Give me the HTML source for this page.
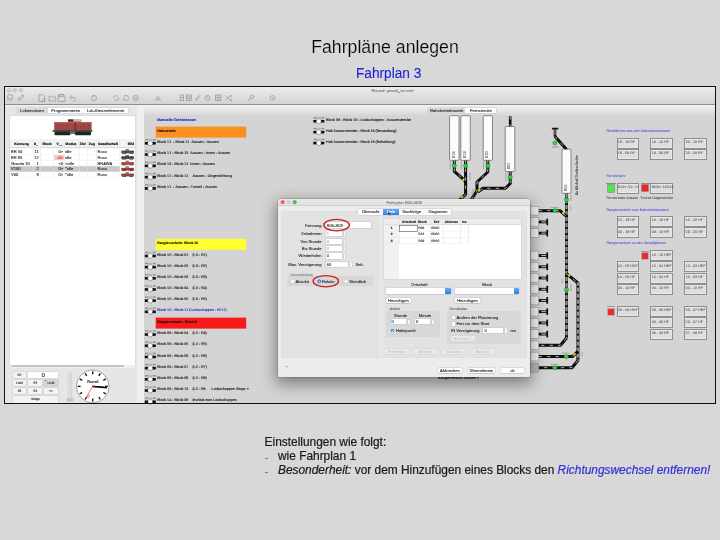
<!DOCTYPE html>
<html><head><meta charset="utf-8"><style>
*{box-sizing:border-box;margin:0;padding:0}
html,body{width:720px;height:540px;overflow:hidden}
body{background:#d8d8d8;font-family:"Liberation Sans",sans-serif;position:relative}
.a{position:absolute}
.t{white-space:nowrap;line-height:1}
svg{position:absolute;left:0;top:0;overflow:visible}
.tx{will-change:transform;font-family:"Liberation Sans",sans-serif;white-space:pre}
</style></head><body>
<div class="a" style="left:265.00px;top:457.70px;width:2.90px;height:1.20px;background:#808080"></div>
<div class="a" style="left:265.00px;top:471.60px;width:2.90px;height:1.20px;background:#808080"></div>
<svg class="tx" width="720" height="540" viewBox="0 0 720 540"><text x="385.00" y="52.59" font-size="17.7" text-anchor="middle" fill="#000" stroke="#d8d8d8" stroke-width="0.2" transform="translate(0 52.59) scale(1 1.055) translate(0 -52.59)">Fahrpläne anlegen</text><text x="388.65" y="78.06" font-size="13.7" text-anchor="middle" fill="#2020d8" stroke="#2020d8" stroke-width="0.1" transform="translate(0 78.06) scale(1 1.13) translate(0 -78.06)">Fahrplan 3</text><text x="264.60" y="445.89" font-size="11.9" text-anchor="start" fill="#1a1a1a" stroke="#1a1a1a" stroke-width="0.22">Einstellungen wie folgt:</text><text x="278.00" y="460.09" font-size="11.9" text-anchor="start" fill="#1a1a1a" stroke="#1a1a1a" stroke-width="0.22">wie Fahrplan 1</text><text x="278.00" y="473.79" font-size="11.9" text-anchor="start" fill="#1a1a1a" stroke="#1a1a1a" stroke-width="0.22"><tspan font-style="italic">Besonderheit:</tspan> vor dem Hinzufügen eines Blocks den <tspan font-style="italic" fill="#3030d8" stroke="#3030d8">Richtungswechsel entfernen!</tspan></text></svg>
<div class="a" style="left:4.00px;top:86.00px;width:712.00px;height:318.00px;background:#d4d4d4"></div>
<div class="a" style="left:5.00px;top:87.00px;width:710.00px;height:17.40px;background:linear-gradient(#ececec,#e2e2e2 40%,#d3d3d3)"></div>
<div class="a" style="left:5.00px;top:104.00px;width:710.00px;height:1.00px;background:#8e8e8e"></div>
<div class="a" style="left:5.00px;top:105.00px;width:710.00px;height:1.00px;background:#f2f2f2"></div>
<svg width="720" height="540" viewBox="0 0 720 540"><circle cx="9" cy="90.3" r="2.1" fill="#cdcdcd" stroke="#bdbdbd" stroke-width="0.4"/><circle cx="14.8" cy="90.3" r="2.1" fill="#cdcdcd" stroke="#bdbdbd" stroke-width="0.4"/><circle cx="20.9" cy="90.3" r="2.1" fill="#cdcdcd" stroke="#bdbdbd" stroke-width="0.4"/><rect x="7.6" y="94.6" width="5" height="5.5" rx="1" fill="#c4c4c4" stroke="#9c9c9c" stroke-width="0.6"/><rect x="8.4" y="95.6" width="3.4" height="1.8" fill="#e0e0e0"/><circle cx="19.5" cy="99" r="1.6" fill="none" stroke="#9c9c9c" stroke-width="0.8"/><circle cx="22.6" cy="96" r="1.1" fill="none" stroke="#9c9c9c" stroke-width="0.8"/><path d="M39 94.7h3.5l2 2v4.8h-5.5z" fill="none" stroke="#9c9c9c" stroke-width="0.8"/><circle cx="43.8" cy="100.6" r="1.1" fill="none" stroke="#9c9c9c" stroke-width="0.8"/><path d="M49 96.2h2.4l0.8 0.8h3.6v4h-6.8z" fill="none" stroke="#9c9c9c" stroke-width="0.8"/><path d="M58.3 94.7h5.6l1 1v5.8h-6.6z" fill="none" stroke="#9c9c9c" stroke-width="0.8"/><rect x="59.6" y="94.7" width="3.6" height="2" fill="none" stroke="#9c9c9c" stroke-width="0.8"/><path d="M70 97.3h3.2a2 2 0 0 1 0 4" fill="none" stroke="#9c9c9c" stroke-width="0.8"/><path d="M71.6 95.6l-1.8 1.7 1.8 1.7" fill="none" stroke="#9c9c9c" stroke-width="0.8"/><circle cx="94" cy="98" r="2.6" fill="none" stroke="#9c9c9c" stroke-width="0.8"/><path d="M94 95v2.4" fill="none" stroke="#9c9c9c" stroke-width="0.8"/><path d="M113.5 98a2.3 2.3 0 0 1 4.2-1.3M118.8 98a2.3 2.3 0 0 1-4.2 1.3" fill="none" stroke="#9c9c9c" stroke-width="0.8"/><circle cx="117.3" cy="98" r="0.1" fill="none" stroke="#9c9c9c" stroke-width="0.8"/><path d="M123.5 98a2.5 2.5 0 1 0 1.2-2.2" fill="none" stroke="#9c9c9c" stroke-width="0.8"/><path d="M123.8 95.2l0.9 0.7-0.7 0.9" fill="none" stroke="#9c9c9c" stroke-width="0.8"/><circle cx="135.7" cy="98" r="2.6" fill="none" stroke="#9c9c9c" stroke-width="0.8"/><path d="M134.6 96.9l2.2 2.2M136.8 96.9l-2.2 2.2" fill="none" stroke="#9c9c9c" stroke-width="0.8"/><path d="M158 94.8l3.2 5.8h-6.4z" fill="#b8b8b8"/><path d="M158 96.6v2" stroke="#e8e8e8" stroke-width="0.6"/><rect x="180.2" y="95" width="3.4" height="5.6" fill="none" stroke="#9c9c9c" stroke-width="0.8"/><path d="M180.2 97.5h3.4" fill="none" stroke="#9c9c9c" stroke-width="0.8"/><rect x="186.4" y="95" width="4.8" height="5.6" fill="none" stroke="#9c9c9c" stroke-width="0.8"/><path d="M186.4 96.8h4.8M186.4 98.6h4.8" fill="none" stroke="#9c9c9c" stroke-width="0.8"/><path d="M195.6 99.5l2.5-2.5 1.5 1.5M198 96.5l2.4-1" fill="none" stroke="#9c9c9c" stroke-width="0.8"/><circle cx="196.6" cy="99.6" r="1" fill="#9c9c9c"/><circle cx="207.5" cy="98" r="2.6" fill="none" stroke="#9c9c9c" stroke-width="0.8"/><path d="M207.5 96.4v1.6h1.4" fill="none" stroke="#9c9c9c" stroke-width="0.8"/><rect x="215.5" y="95" width="5.4" height="5.6" fill="none" stroke="#9c9c9c" stroke-width="0.8"/><path d="M215.5 97.8h5.4M218.2 95v5.6" fill="none" stroke="#9c9c9c" stroke-width="0.8"/><path d="M225.5 95.5l5.6 5M225.5 100.5l5.6-5M229.8 95.5h1.5v1.5M229.8 100.5h1.5v-1.5" fill="none" stroke="#9c9c9c" stroke-width="0.8"/><circle cx="252" cy="96.8" r="1.7" fill="none" stroke="#9c9c9c" stroke-width="0.8"/><path d="M250.8 98l-2.7 2.7" stroke="#9c9c9c" stroke-width="1"/><circle cx="272.5" cy="98" r="2.4" fill="none" stroke="#9c9c9c" stroke-width="0.8"/><path d="M272.5 97.3v2" fill="none" stroke="#9c9c9c" stroke-width="0.8"/><text x="371.5" y="91.6" font-size="4.2" fill="#6a6a6a" stroke="#6a6a6a" stroke-width="0.05">Rocrail: gesall_virt.xml</text></svg>
<div class="a" style="left:5.00px;top:105.50px;width:132.00px;height:297.00px;background:#e6e6e6"></div>
<div class="a" style="left:137.00px;top:105.50px;width:7.00px;height:297.00px;background:#eeeeee"></div>
<div class="a" style="left:17.20px;top:108.00px;width:111.00px;height:5.00px;background:#fdfdfd;box-shadow:0 0 0 0.5px #cfcfcf"></div>
<div class="a" style="left:17.20px;top:108.00px;width:30.70px;height:5.00px;background:#dadada"></div>
<div class="a" style="left:9.50px;top:115.80px;width:125.50px;height:249.00px;background:#fff;box-shadow:0 0 0 0.5px #d2d2d2"></div>
<div class="a" style="left:9.50px;top:139.00px;width:125.50px;height:8.60px;background:#f3f3f3;border-bottom:0.6px solid #dcdcdc"></div>
<div class="a" style="left:9.50px;top:166.20px;width:110.20px;height:5.60px;background:#c8c8c8"></div>
<div class="a" style="left:53.80px;top:154.60px;width:10.50px;height:5.70px;background:#f6caca"></div>
<svg width="720" height="540" viewBox="0 0 720 540"><rect x="33.2" y="139" width="0.5" height="38.5" fill="#e2e2e2"/><rect x="40.5" y="139" width="0.5" height="38.5" fill="#e2e2e2"/><rect x="53.6" y="139" width="0.5" height="38.5" fill="#e2e2e2"/><rect x="64.3" y="139" width="0.5" height="38.5" fill="#e2e2e2"/><rect x="78.9" y="139" width="0.5" height="38.5" fill="#e2e2e2"/><rect x="87.6" y="139" width="0.5" height="38.5" fill="#e2e2e2"/><rect x="96.4" y="139" width="0.5" height="38.5" fill="#e2e2e2"/><rect x="119.7" y="139" width="0.5" height="38.5" fill="#e2e2e2"/><rect x="9.5" y="148.6" width="125" height="0.4" fill="#ececec"/><rect x="9.5" y="154.35" width="125" height="0.4" fill="#ececec"/><rect x="9.5" y="160.1" width="125" height="0.4" fill="#ececec"/><rect x="9.5" y="165.85" width="125" height="0.4" fill="#ececec"/><rect x="9.5" y="171.6" width="125" height="0.4" fill="#ececec"/><rect x="9.5" y="177.35" width="125" height="0.4" fill="#ececec"/><rect x="54.2" y="122.2" width="37.4" height="8.3" fill="#a04646"/><rect x="54.2" y="122.2" width="37.4" height="1" fill="#b86060"/><rect x="74.6" y="122.2" width="1.2" height="8.3" fill="#6e2626"/><rect x="58" y="123.5" width="0.5" height="6.5" fill="#8a3838"/><rect x="62" y="123.5" width="0.5" height="6.5" fill="#8a3838"/><rect x="66" y="123.5" width="0.5" height="6.5" fill="#8a3838"/><rect x="84" y="123.5" width="0.5" height="6.5" fill="#8a3838"/><rect x="88" y="123.5" width="0.5" height="6.5" fill="#8a3838"/><rect x="67.9" y="119.6" width="13.4" height="2.8" fill="#a04646"/><rect x="68.2" y="119.4" width="5" height="1.6" fill="#4a2222"/><rect x="73.4" y="119.6" width="7.6" height="2" fill="#c8c0c0"/><rect x="52.6" y="130.2" width="39.7" height="1.6" fill="#2c3430"/><rect x="54.5" y="131.6" width="16" height="3.6" rx="1" fill="#1e2622"/><rect x="75" y="131.6" width="16" height="3.6" rx="1" fill="#1e2622"/><rect x="70.5" y="131.8" width="4.5" height="2.2" fill="#6a706c"/><rect x="121.3325" y="150.61428571428573" width="12.635000000000002" height="2.1028571428571428" fill="#5e4444"/><rect x="125.3225" y="149.56285714285715" width="3.6575" height="3.154285714285714" fill="#5e4444"/><rect x="125.9875" y="149.3" width="2.66" height="0.39428571428571424" fill="#2a1a1a"/><rect x="125.82125" y="149.95714285714286" width="0.9975" height="0.6571428571428571" fill="#d8d0d0"/><rect x="127.48375" y="149.95714285714286" width="0.9975" height="0.6571428571428571" fill="#d8d0d0"/><rect x="122.6625" y="150.74571428571429" width="0.16625" height="1.8399999999999999" fill="#2a1a1a"/><rect x="123.9925" y="150.74571428571429" width="0.16625" height="1.8399999999999999" fill="#2a1a1a"/><rect x="130.31" y="150.74571428571429" width="0.16625" height="1.8399999999999999" fill="#2a1a1a"/><rect x="131.64" y="150.74571428571429" width="0.16625" height="1.8399999999999999" fill="#2a1a1a"/><rect x="132.6375" y="150.74571428571429" width="0.16625" height="1.8399999999999999" fill="#2a1a1a"/><rect x="121.0" y="152.5857142857143" width="13.3" height="0.4205714285714286" fill="#3a3a3a"/><rect x="121.9975" y="152.98000000000002" width="3.99" height="0.7885714285714285" fill="#2a2a2a"/><rect x="129.3125" y="152.98000000000002" width="3.99" height="0.7885714285714285" fill="#2a2a2a"/><rect x="125.9875" y="152.98000000000002" width="3.325" height="0.39428571428571424" fill="#555"/><rect x="121.3325" y="156.36428571428573" width="12.635000000000002" height="2.1028571428571428" fill="#363650"/><rect x="125.3225" y="155.31285714285715" width="3.6575" height="3.154285714285714" fill="#363650"/><rect x="125.9875" y="155.05" width="2.66" height="0.39428571428571424" fill="#2a1a1a"/><rect x="125.82125" y="155.70714285714286" width="0.9975" height="0.6571428571428571" fill="#d8d0d0"/><rect x="127.48375" y="155.70714285714286" width="0.9975" height="0.6571428571428571" fill="#d8d0d0"/><rect x="122.6625" y="156.49571428571429" width="0.16625" height="1.8399999999999999" fill="#2a1a1a"/><rect x="123.9925" y="156.49571428571429" width="0.16625" height="1.8399999999999999" fill="#2a1a1a"/><rect x="130.31" y="156.49571428571429" width="0.16625" height="1.8399999999999999" fill="#2a1a1a"/><rect x="131.64" y="156.49571428571429" width="0.16625" height="1.8399999999999999" fill="#2a1a1a"/><rect x="132.6375" y="156.49571428571429" width="0.16625" height="1.8399999999999999" fill="#2a1a1a"/><rect x="121.0" y="158.3357142857143" width="13.3" height="0.4205714285714286" fill="#3a3a3a"/><rect x="121.9975" y="158.73000000000002" width="3.99" height="0.7885714285714285" fill="#2a2a2a"/><rect x="129.3125" y="158.73000000000002" width="3.99" height="0.7885714285714285" fill="#2a2a2a"/><rect x="125.9875" y="158.73000000000002" width="3.325" height="0.39428571428571424" fill="#555"/><rect x="121.3325" y="162.11428571428573" width="12.635000000000002" height="2.1028571428571428" fill="#d04030"/><rect x="125.3225" y="161.06285714285715" width="3.6575" height="3.154285714285714" fill="#d04030"/><rect x="125.9875" y="160.8" width="2.66" height="0.39428571428571424" fill="#2a1a1a"/><rect x="125.82125" y="161.45714285714286" width="0.9975" height="0.6571428571428571" fill="#d8d0d0"/><rect x="127.48375" y="161.45714285714286" width="0.9975" height="0.6571428571428571" fill="#d8d0d0"/><rect x="122.6625" y="162.24571428571429" width="0.16625" height="1.8399999999999999" fill="#2a1a1a"/><rect x="123.9925" y="162.24571428571429" width="0.16625" height="1.8399999999999999" fill="#2a1a1a"/><rect x="130.31" y="162.24571428571429" width="0.16625" height="1.8399999999999999" fill="#2a1a1a"/><rect x="131.64" y="162.24571428571429" width="0.16625" height="1.8399999999999999" fill="#2a1a1a"/><rect x="132.6375" y="162.24571428571429" width="0.16625" height="1.8399999999999999" fill="#2a1a1a"/><rect x="121.0" y="164.0857142857143" width="13.3" height="0.4205714285714286" fill="#3a3a3a"/><rect x="121.9975" y="164.48000000000002" width="3.99" height="0.7885714285714285" fill="#2a2a2a"/><rect x="129.3125" y="164.48000000000002" width="3.99" height="0.7885714285714285" fill="#2a2a2a"/><rect x="125.9875" y="164.48000000000002" width="3.325" height="0.39428571428571424" fill="#555"/><rect x="121.3325" y="167.86428571428573" width="12.635000000000002" height="2.1028571428571428" fill="#a83c3c"/><rect x="125.3225" y="166.81285714285715" width="3.6575" height="3.154285714285714" fill="#a83c3c"/><rect x="125.9875" y="166.55" width="2.66" height="0.39428571428571424" fill="#2a1a1a"/><rect x="125.82125" y="167.20714285714286" width="0.9975" height="0.6571428571428571" fill="#d8d0d0"/><rect x="127.48375" y="167.20714285714286" width="0.9975" height="0.6571428571428571" fill="#d8d0d0"/><rect x="122.6625" y="167.99571428571429" width="0.16625" height="1.8399999999999999" fill="#2a1a1a"/><rect x="123.9925" y="167.99571428571429" width="0.16625" height="1.8399999999999999" fill="#2a1a1a"/><rect x="130.31" y="167.99571428571429" width="0.16625" height="1.8399999999999999" fill="#2a1a1a"/><rect x="131.64" y="167.99571428571429" width="0.16625" height="1.8399999999999999" fill="#2a1a1a"/><rect x="132.6375" y="167.99571428571429" width="0.16625" height="1.8399999999999999" fill="#2a1a1a"/><rect x="121.0" y="169.8357142857143" width="13.3" height="0.4205714285714286" fill="#3a3a3a"/><rect x="121.9975" y="170.23000000000002" width="3.99" height="0.7885714285714285" fill="#2a2a2a"/><rect x="129.3125" y="170.23000000000002" width="3.99" height="0.7885714285714285" fill="#2a2a2a"/><rect x="125.9875" y="170.23000000000002" width="3.325" height="0.39428571428571424" fill="#555"/><rect x="121.3325" y="173.61428571428573" width="12.635000000000002" height="2.1028571428571428" fill="#a83c3c"/><rect x="125.3225" y="172.56285714285715" width="3.6575" height="3.154285714285714" fill="#a83c3c"/><rect x="125.9875" y="172.3" width="2.66" height="0.39428571428571424" fill="#2a1a1a"/><rect x="125.82125" y="172.95714285714286" width="0.9975" height="0.6571428571428571" fill="#d8d0d0"/><rect x="127.48375" y="172.95714285714286" width="0.9975" height="0.6571428571428571" fill="#d8d0d0"/><rect x="122.6625" y="173.74571428571429" width="0.16625" height="1.8399999999999999" fill="#2a1a1a"/><rect x="123.9925" y="173.74571428571429" width="0.16625" height="1.8399999999999999" fill="#2a1a1a"/><rect x="130.31" y="173.74571428571429" width="0.16625" height="1.8399999999999999" fill="#2a1a1a"/><rect x="131.64" y="173.74571428571429" width="0.16625" height="1.8399999999999999" fill="#2a1a1a"/><rect x="132.6375" y="173.74571428571429" width="0.16625" height="1.8399999999999999" fill="#2a1a1a"/><rect x="121.0" y="175.5857142857143" width="13.3" height="0.4205714285714286" fill="#3a3a3a"/><rect x="121.9975" y="175.98000000000002" width="3.99" height="0.7885714285714285" fill="#2a2a2a"/><rect x="129.3125" y="175.98000000000002" width="3.99" height="0.7885714285714285" fill="#2a2a2a"/><rect x="125.9875" y="175.98000000000002" width="3.325" height="0.39428571428571424" fill="#555"/></svg>
<div class="a" style="left:11.40px;top:365.60px;width:113.00px;height:1.60px;background:#c2c2c2;border-radius:1px"></div>
<div class="a" style="left:9.50px;top:365.00px;width:125.50px;height:3.00px;background:#efefef"></div>
<div class="a" style="left:11.40px;top:365.40px;width:113.00px;height:1.60px;background:#c4c4c4;border-radius:1px"></div>
<div class="a" style="left:12.70px;top:371.80px;width:13.70px;height:5.80px;background:#f3f3f3;box-shadow:0 0 0 0.5px #c9c9c9;border-radius:0.8px"></div>
<div class="a" style="left:28.30px;top:371.80px;width:29.70px;height:5.80px;background:#fff;box-shadow:0 0 0 0.5px #cfcfcf"></div>
<div class="a" style="left:12.70px;top:380.00px;width:13.70px;height:5.70px;background:#f3f3f3;box-shadow:0 0 0 0.5px #c9c9c9;border-radius:0.8px"></div>
<div class="a" style="left:28.30px;top:380.00px;width:14.20px;height:5.70px;background:#f3f3f3;box-shadow:0 0 0 0.5px #c9c9c9;border-radius:0.8px"></div>
<div class="a" style="left:44.00px;top:380.00px;width:14.00px;height:5.70px;background:#d6d6d6;box-shadow:0 0 0 0.5px #bdbdbd;border-radius:0.8px"></div>
<div class="a" style="left:12.70px;top:388.30px;width:13.70px;height:5.70px;background:#f3f3f3;box-shadow:0 0 0 0.5px #c9c9c9;border-radius:0.8px"></div>
<div class="a" style="left:28.30px;top:388.30px;width:14.20px;height:5.70px;background:#f3f3f3;box-shadow:0 0 0 0.5px #c9c9c9;border-radius:0.8px"></div>
<div class="a" style="left:44.00px;top:388.30px;width:14.00px;height:5.70px;background:#f3f3f3;box-shadow:0 0 0 0.5px #c9c9c9;border-radius:0.8px"></div>
<div class="a" style="left:45.00px;top:380.20px;width:0.90px;height:0.90px;background:#e03030"></div>
<div class="a" style="left:12.70px;top:396.30px;width:45.30px;height:6.50px;background:#f3f3f3;box-shadow:0 0 0 0.5px #c9c9c9;border-radius:0.8px"></div>
<svg width="720" height="540" viewBox="0 0 720 540"><rect x="68.6" y="373" width="3" height="28" fill="#dcdcdc" stroke="#c8c8c8" stroke-width="0.4"/><rect x="71.6" y="375.0" width="1.4" height="0.4" fill="#b8b8b8"/><rect x="71.6" y="377.8" width="1.4" height="0.4" fill="#b8b8b8"/><rect x="71.6" y="380.6" width="1.4" height="0.4" fill="#b8b8b8"/><rect x="71.6" y="383.4" width="1.4" height="0.4" fill="#b8b8b8"/><rect x="71.6" y="386.2" width="1.4" height="0.4" fill="#b8b8b8"/><rect x="71.6" y="389.0" width="1.4" height="0.4" fill="#b8b8b8"/><rect x="71.6" y="391.8" width="1.4" height="0.4" fill="#b8b8b8"/><rect x="71.6" y="394.6" width="1.4" height="0.4" fill="#b8b8b8"/><rect x="71.6" y="397.4" width="1.4" height="0.4" fill="#b8b8b8"/><rect x="66.6" y="398.4" width="7" height="3.2" fill="#c4c4c4"/><circle cx="92.75" cy="386.4" r="16.4" fill="#fff" stroke="#555" stroke-width="0.5"/><line x1="92.75" y1="371.30" x2="92.75" y2="374.20" stroke="#111" stroke-width="1.35"/><line x1="100.30" y1="373.32" x2="98.85" y2="375.83" stroke="#111" stroke-width="1.35"/><line x1="105.83" y1="378.85" x2="103.32" y2="380.30" stroke="#111" stroke-width="1.35"/><line x1="107.85" y1="386.40" x2="104.95" y2="386.40" stroke="#111" stroke-width="1.35"/><line x1="105.83" y1="393.95" x2="103.32" y2="392.50" stroke="#111" stroke-width="1.35"/><line x1="100.30" y1="399.48" x2="98.85" y2="396.97" stroke="#111" stroke-width="1.35"/><line x1="92.75" y1="401.50" x2="92.75" y2="398.60" stroke="#111" stroke-width="1.35"/><line x1="85.20" y1="399.48" x2="86.65" y2="396.97" stroke="#111" stroke-width="1.35"/><line x1="79.67" y1="393.95" x2="82.18" y2="392.50" stroke="#111" stroke-width="1.35"/><line x1="77.65" y1="386.40" x2="80.55" y2="386.40" stroke="#111" stroke-width="1.35"/><line x1="79.67" y1="378.85" x2="82.18" y2="380.30" stroke="#111" stroke-width="1.35"/><line x1="85.20" y1="373.32" x2="86.65" y2="375.83" stroke="#111" stroke-width="1.35"/><text x="87.15" y="383.2" font-size="3.3" font-weight="bold" fill="#333" stroke="#333" stroke-width="0.12">Rocrail</text><line x1="92.75" y1="386.4" x2="106.95" y2="387.79999999999995" stroke="#111" stroke-width="1.5"/><line x1="92.75" y1="386.4" x2="103.75" y2="387.0" stroke="#111" stroke-width="1.1"/><line x1="92.75" y1="386.4" x2="85.45" y2="398.79999999999995" stroke="#e02020" stroke-width="0.6"/><circle cx="88.35" cy="395.79999999999995" r="1.2" fill="#fff" stroke="#e02020" stroke-width="0.6"/><circle cx="92.75" cy="386.4" r="0.8" fill="#e02020"/></svg>
<svg class="tx" width="720" height="540" viewBox="0 0 720 540"><text x="20.00" y="112.04" font-size="4.2" text-anchor="start" fill="#222" stroke="#222" stroke-width="0.09">Lokomotiven</text><text x="51.20" y="112.04" font-size="4.2" text-anchor="start" fill="#222" stroke="#222" stroke-width="0.09">Programmieren</text><text x="86.70" y="112.04" font-size="4.2" text-anchor="start" fill="#222" stroke="#222" stroke-width="0.09">Lok-Steuerelemente</text><text x="21.50" y="144.55" font-size="3.35" text-anchor="middle" fill="#1a1a1a" stroke="#1a1a1a" stroke-width="0.2" font-weight="bold" transform="translate(0 144.55) skewX(0.5) translate(0 -144.55)" style="text-rendering:geometricPrecision;font-kerning:none">Kennung</text><text x="36.00" y="144.55" font-size="3.35" text-anchor="middle" fill="#1a1a1a" stroke="#1a1a1a" stroke-width="0.2" font-weight="bold" transform="translate(0 144.55) skewX(0.5) translate(0 -144.55)" style="text-rendering:geometricPrecision;font-kerning:none">#_</text><text x="47.00" y="144.55" font-size="3.35" text-anchor="middle" fill="#1a1a1a" stroke="#1a1a1a" stroke-width="0.2" font-weight="bold" transform="translate(0 144.55) skewX(0.5) translate(0 -144.55)" style="text-rendering:geometricPrecision;font-kerning:none">Block</text><text x="59.40" y="144.55" font-size="3.35" text-anchor="middle" fill="#1a1a1a" stroke="#1a1a1a" stroke-width="0.2" font-weight="bold" transform="translate(0 144.55) skewX(0.5) translate(0 -144.55)" style="text-rendering:geometricPrecision;font-kerning:none">V__</text><text x="71.00" y="144.55" font-size="3.35" text-anchor="middle" fill="#1a1a1a" stroke="#1a1a1a" stroke-width="0.2" font-weight="bold" transform="translate(0 144.55) skewX(0.5) translate(0 -144.55)" style="text-rendering:geometricPrecision;font-kerning:none">Modus</text><text x="82.70" y="144.55" font-size="3.35" text-anchor="middle" fill="#1a1a1a" stroke="#1a1a1a" stroke-width="0.2" font-weight="bold" transform="translate(0 144.55) skewX(0.5) translate(0 -144.55)" style="text-rendering:geometricPrecision;font-kerning:none">Ziel</text><text x="91.90" y="144.55" font-size="3.35" text-anchor="middle" fill="#1a1a1a" stroke="#1a1a1a" stroke-width="0.2" font-weight="bold" transform="translate(0 144.55) skewX(0.5) translate(0 -144.55)" style="text-rendering:geometricPrecision;font-kerning:none">Zug</text><text x="108.00" y="144.55" font-size="3.35" text-anchor="middle" fill="#1a1a1a" stroke="#1a1a1a" stroke-width="0.2" font-weight="bold" transform="translate(0 144.55) skewX(0.5) translate(0 -144.55)" style="text-rendering:geometricPrecision;font-kerning:none">Gesellschaft</text><text x="131.00" y="144.55" font-size="3.35" text-anchor="middle" fill="#1a1a1a" stroke="#1a1a1a" stroke-width="0.2" font-weight="bold" transform="translate(0 144.55) skewX(0.5) translate(0 -144.55)" style="text-rendering:geometricPrecision;font-kerning:none">Bild</text><text x="11.00" y="153.01" font-size="4.1" text-anchor="start" fill="#222" stroke="#222" stroke-width="0.09">BR 50</text><text x="38.80" y="153.01" font-size="4.1" text-anchor="end" fill="#222" stroke="#222" stroke-width="0.09">11</text><text x="63.20" y="153.01" font-size="4.1" text-anchor="end" fill="#222" stroke="#222" stroke-width="0.09">0&gt;</text><text x="65.20" y="153.01" font-size="4.1" text-anchor="start" fill="#222" stroke="#222" stroke-width="0.09">idle</text><text x="97.60" y="153.01" font-size="4.1" text-anchor="start" fill="#222" stroke="#222" stroke-width="0.09">Roco</text><text x="11.00" y="158.76" font-size="4.1" text-anchor="start" fill="#222" stroke="#222" stroke-width="0.09">BR 93</text><text x="38.80" y="158.76" font-size="4.1" text-anchor="end" fill="#222" stroke="#222" stroke-width="0.09">12</text><text x="63.20" y="158.76" font-size="4.1" text-anchor="end" fill="#c03030" stroke="#c03030" stroke-width="0.09">-0&gt;</text><text x="65.20" y="158.76" font-size="4.1" text-anchor="start" fill="#222" stroke="#222" stroke-width="0.09">idle</text><text x="97.60" y="158.76" font-size="4.1" text-anchor="start" fill="#222" stroke="#222" stroke-width="0.09">Roco</text><text x="11.00" y="164.51" font-size="4.1" text-anchor="start" fill="#222" stroke="#222" stroke-width="0.09">Gravita 10</text><text x="38.80" y="164.51" font-size="4.1" text-anchor="end" fill="#222" stroke="#222" stroke-width="0.09">1</text><text x="63.20" y="164.51" font-size="4.1" text-anchor="end" fill="#222" stroke="#222" stroke-width="0.09">&lt;0</text><text x="65.20" y="164.51" font-size="4.1" text-anchor="start" fill="#222" stroke="#222" stroke-width="0.09">&gt;idle</text><text x="97.60" y="164.51" font-size="4.1" text-anchor="start" fill="#222" stroke="#222" stroke-width="0.09">BRAWA</text><text x="11.00" y="170.26" font-size="4.1" text-anchor="start" fill="#222" stroke="#222" stroke-width="0.09">V100</text><text x="38.80" y="170.26" font-size="4.1" text-anchor="end" fill="#222" stroke="#222" stroke-width="0.09">2</text><text x="63.20" y="170.26" font-size="4.1" text-anchor="end" fill="#222" stroke="#222" stroke-width="0.09">0&gt;</text><text x="65.20" y="170.26" font-size="4.1" text-anchor="start" fill="#222" stroke="#222" stroke-width="0.09">*idle</text><text x="97.60" y="170.26" font-size="4.1" text-anchor="start" fill="#222" stroke="#222" stroke-width="0.09">Roco</text><text x="11.00" y="176.01" font-size="4.1" text-anchor="start" fill="#222" stroke="#222" stroke-width="0.09">V60</text><text x="38.80" y="176.01" font-size="4.1" text-anchor="end" fill="#222" stroke="#222" stroke-width="0.09">9</text><text x="63.20" y="176.01" font-size="4.1" text-anchor="end" fill="#222" stroke="#222" stroke-width="0.09">0&gt;</text><text x="65.20" y="176.01" font-size="4.1" text-anchor="start" fill="#222" stroke="#222" stroke-width="0.09">*idle</text><text x="97.60" y="176.01" font-size="4.1" text-anchor="start" fill="#222" stroke="#222" stroke-width="0.09">Roco</text><text x="43.40" y="376.73" font-size="5.6" text-anchor="middle" fill="#222" stroke="#222" stroke-width="0.15">0</text><text x="19.50" y="375.84" font-size="3.3" text-anchor="middle" fill="#333" stroke="#333" stroke-width="0.13" transform="translate(0 375.84) skewX(0.5) translate(0 -375.84)" style="text-rendering:geometricPrecision;font-kerning:none">F0</text><text x="19.55" y="384.00" font-size="3.2" text-anchor="middle" fill="#333" stroke="#333" stroke-width="0.13" transform="translate(0 384.00) skewX(0.5) translate(0 -384.00)" style="text-rendering:geometricPrecision;font-kerning:none">LtzM</text><text x="35.40" y="384.00" font-size="3.2" text-anchor="middle" fill="#333" stroke="#333" stroke-width="0.13" transform="translate(0 384.00) skewX(0.5) translate(0 -384.00)" style="text-rendering:geometricPrecision;font-kerning:none">F2</text><text x="51.00" y="384.00" font-size="3.2" text-anchor="middle" fill="#333" stroke="#333" stroke-width="0.13" transform="translate(0 384.00) skewX(0.5) translate(0 -384.00)" style="text-rendering:geometricPrecision;font-kerning:none">LtzM</text><text x="19.55" y="392.30" font-size="3.2" text-anchor="middle" fill="#333" stroke="#333" stroke-width="0.13" transform="translate(0 392.30) skewX(0.5) translate(0 -392.30)" style="text-rendering:geometricPrecision;font-kerning:none">F3</text><text x="35.40" y="392.30" font-size="3.2" text-anchor="middle" fill="#333" stroke="#333" stroke-width="0.13" transform="translate(0 392.30) skewX(0.5) translate(0 -392.30)" style="text-rendering:geometricPrecision;font-kerning:none">F4</text><text x="51.00" y="392.30" font-size="3.2" text-anchor="middle" fill="#333" stroke="#333" stroke-width="0.13" transform="translate(0 392.30) skewX(0.5) translate(0 -392.30)" style="text-rendering:geometricPrecision;font-kerning:none">&gt;&gt;</text><text x="35.30" y="400.40" font-size="3.2" text-anchor="middle" fill="#333" stroke="#333" stroke-width="0.13" transform="translate(0 400.40) skewX(0.5) translate(0 -400.40)" style="text-rendering:geometricPrecision;font-kerning:none">Stopp</text></svg>
<div class="a" style="left:144.00px;top:105.50px;width:571.00px;height:5.00px;background:linear-gradient(#eeeeee,#e6e6e6)"></div>
<div class="a" style="left:144.00px;top:110.50px;width:571.00px;height:4.00px;background:linear-gradient(#e2e2e2,#d8d8d8)"></div>
<div class="a" style="left:428.30px;top:107.60px;width:67.70px;height:5.40px;background:#fdfdfd;box-shadow:0 0 0 0.5px #c8c8c8"></div>
<div class="a" style="left:428.30px;top:107.60px;width:37.10px;height:5.40px;background:#d9d9d9"></div>
<svg width="720" height="540" viewBox="0 0 720 540"><rect x="155.7" y="126.6" width="90.5" height="11" fill="#ff8e20"/><rect x="155.7" y="238.8" width="90.5" height="11" fill="#ffff30"/><rect x="155.7" y="317.6" width="90.5" height="11" fill="#fa1a1a"/><rect x="144.8" y="141.95" width="11" height="2.6" fill="#0a0a0a"/><circle cx="150.25" cy="143.25" r="2.45" fill="#fff" stroke="#555" stroke-width="0.45"/><rect x="145.0" y="139.0" width="3" height="1.4" fill="#556655" opacity="0.6"/><rect x="148.20000000000002" y="139.0" width="4.2" height="1.2" fill="#888" opacity="0.45"/><rect x="152.8" y="139.0" width="3" height="1.4" fill="#556677" opacity="0.6"/><rect x="144.8" y="153.25" width="11" height="2.6" fill="#0a0a0a"/><circle cx="150.25" cy="154.55" r="2.45" fill="#fff" stroke="#555" stroke-width="0.45"/><rect x="145.0" y="150.3" width="3" height="1.4" fill="#556655" opacity="0.6"/><rect x="148.20000000000002" y="150.3" width="4.2" height="1.2" fill="#888" opacity="0.45"/><rect x="152.8" y="150.3" width="3" height="1.4" fill="#556677" opacity="0.6"/><rect x="144.8" y="164.54999999999998" width="11" height="2.6" fill="#0a0a0a"/><circle cx="150.25" cy="165.85" r="2.45" fill="#fff" stroke="#555" stroke-width="0.45"/><rect x="145.0" y="161.6" width="3" height="1.4" fill="#556655" opacity="0.6"/><rect x="148.20000000000002" y="161.6" width="4.2" height="1.2" fill="#888" opacity="0.45"/><rect x="152.8" y="161.6" width="3" height="1.4" fill="#556677" opacity="0.6"/><rect x="144.8" y="175.85" width="11" height="2.6" fill="#0a0a0a"/><circle cx="150.25" cy="177.15" r="2.45" fill="#fff" stroke="#555" stroke-width="0.45"/><rect x="145.0" y="172.9" width="3" height="1.4" fill="#556655" opacity="0.6"/><rect x="148.20000000000002" y="172.9" width="4.2" height="1.2" fill="#888" opacity="0.45"/><rect x="152.8" y="172.9" width="3" height="1.4" fill="#556677" opacity="0.6"/><rect x="144.8" y="187.15" width="11" height="2.6" fill="#0a0a0a"/><circle cx="150.25" cy="188.45000000000002" r="2.45" fill="#fff" stroke="#555" stroke-width="0.45"/><rect x="145.0" y="184.20000000000002" width="3" height="1.4" fill="#556655" opacity="0.6"/><rect x="148.20000000000002" y="184.20000000000002" width="4.2" height="1.2" fill="#888" opacity="0.45"/><rect x="152.8" y="184.20000000000002" width="3" height="1.4" fill="#556677" opacity="0.6"/><rect x="144.8" y="254.65" width="11" height="2.6" fill="#0a0a0a"/><circle cx="150.25" cy="255.95000000000002" r="2.45" fill="#fff" stroke="#555" stroke-width="0.45"/><rect x="145.0" y="251.70000000000002" width="3" height="1.4" fill="#556655" opacity="0.6"/><rect x="148.20000000000002" y="251.70000000000002" width="4.2" height="1.2" fill="#888" opacity="0.45"/><rect x="152.8" y="251.70000000000002" width="3" height="1.4" fill="#556677" opacity="0.6"/><rect x="144.8" y="265.82000000000005" width="11" height="2.6" fill="#0a0a0a"/><circle cx="150.25" cy="267.12" r="2.45" fill="#fff" stroke="#555" stroke-width="0.45"/><rect x="145.0" y="262.87" width="3" height="1.4" fill="#556655" opacity="0.6"/><rect x="148.20000000000002" y="262.87" width="4.2" height="1.2" fill="#888" opacity="0.45"/><rect x="152.8" y="262.87" width="3" height="1.4" fill="#556677" opacity="0.6"/><rect x="144.8" y="276.99" width="11" height="2.6" fill="#0a0a0a"/><circle cx="150.25" cy="278.28999999999996" r="2.45" fill="#fff" stroke="#555" stroke-width="0.45"/><rect x="145.0" y="274.03999999999996" width="3" height="1.4" fill="#556655" opacity="0.6"/><rect x="148.20000000000002" y="274.03999999999996" width="4.2" height="1.2" fill="#888" opacity="0.45"/><rect x="152.8" y="274.03999999999996" width="3" height="1.4" fill="#556677" opacity="0.6"/><rect x="144.8" y="288.16" width="11" height="2.6" fill="#0a0a0a"/><circle cx="150.25" cy="289.46" r="2.45" fill="#fff" stroke="#555" stroke-width="0.45"/><rect x="145.0" y="285.21" width="3" height="1.4" fill="#556655" opacity="0.6"/><rect x="148.20000000000002" y="285.21" width="4.2" height="1.2" fill="#888" opacity="0.45"/><rect x="152.8" y="285.21" width="3" height="1.4" fill="#556677" opacity="0.6"/><rect x="144.8" y="299.33000000000004" width="11" height="2.6" fill="#0a0a0a"/><circle cx="150.25" cy="300.63" r="2.45" fill="#fff" stroke="#555" stroke-width="0.45"/><rect x="145.0" y="296.38" width="3" height="1.4" fill="#556655" opacity="0.6"/><rect x="148.20000000000002" y="296.38" width="4.2" height="1.2" fill="#888" opacity="0.45"/><rect x="152.8" y="296.38" width="3" height="1.4" fill="#556677" opacity="0.6"/><rect x="144.8" y="310.50000000000006" width="11" height="2.6" fill="#0a0a0a"/><circle cx="150.25" cy="311.8" r="2.45" fill="#fff" stroke="#555" stroke-width="0.45"/><rect x="145.0" y="307.55" width="3" height="1.4" fill="#556655" opacity="0.6"/><rect x="148.20000000000002" y="307.55" width="4.2" height="1.2" fill="#888" opacity="0.45"/><rect x="152.8" y="307.55" width="3" height="1.4" fill="#556677" opacity="0.6"/><rect x="144.8" y="333.25" width="11" height="2.6" fill="#0a0a0a"/><circle cx="150.25" cy="334.54999999999995" r="2.45" fill="#fff" stroke="#555" stroke-width="0.45"/><rect x="145.0" y="330.29999999999995" width="3" height="1.4" fill="#556655" opacity="0.6"/><rect x="148.20000000000002" y="330.29999999999995" width="4.2" height="1.2" fill="#888" opacity="0.45"/><rect x="152.8" y="330.29999999999995" width="3" height="1.4" fill="#556677" opacity="0.6"/><rect x="144.8" y="344.45" width="11" height="2.6" fill="#0a0a0a"/><circle cx="150.25" cy="345.74999999999994" r="2.45" fill="#fff" stroke="#555" stroke-width="0.45"/><rect x="145.0" y="341.49999999999994" width="3" height="1.4" fill="#556655" opacity="0.6"/><rect x="148.20000000000002" y="341.49999999999994" width="4.2" height="1.2" fill="#888" opacity="0.45"/><rect x="152.8" y="341.49999999999994" width="3" height="1.4" fill="#556677" opacity="0.6"/><rect x="144.8" y="355.65" width="11" height="2.6" fill="#0a0a0a"/><circle cx="150.25" cy="356.94999999999993" r="2.45" fill="#fff" stroke="#555" stroke-width="0.45"/><rect x="145.0" y="352.69999999999993" width="3" height="1.4" fill="#556655" opacity="0.6"/><rect x="148.20000000000002" y="352.69999999999993" width="4.2" height="1.2" fill="#888" opacity="0.45"/><rect x="152.8" y="352.69999999999993" width="3" height="1.4" fill="#556677" opacity="0.6"/><rect x="144.8" y="366.85" width="11" height="2.6" fill="#0a0a0a"/><circle cx="150.25" cy="368.15" r="2.45" fill="#fff" stroke="#555" stroke-width="0.45"/><rect x="145.0" y="363.9" width="3" height="1.4" fill="#556655" opacity="0.6"/><rect x="148.20000000000002" y="363.9" width="4.2" height="1.2" fill="#888" opacity="0.45"/><rect x="152.8" y="363.9" width="3" height="1.4" fill="#556677" opacity="0.6"/><rect x="144.8" y="378.05" width="11" height="2.6" fill="#0a0a0a"/><circle cx="150.25" cy="379.34999999999997" r="2.45" fill="#fff" stroke="#555" stroke-width="0.45"/><rect x="145.0" y="375.09999999999997" width="3" height="1.4" fill="#556655" opacity="0.6"/><rect x="148.20000000000002" y="375.09999999999997" width="4.2" height="1.2" fill="#888" opacity="0.45"/><rect x="152.8" y="375.09999999999997" width="3" height="1.4" fill="#556677" opacity="0.6"/><rect x="144.8" y="389.25" width="11" height="2.6" fill="#0a0a0a"/><circle cx="150.25" cy="390.54999999999995" r="2.45" fill="#fff" stroke="#555" stroke-width="0.45"/><rect x="145.0" y="386.29999999999995" width="3" height="1.4" fill="#556655" opacity="0.6"/><rect x="148.20000000000002" y="386.29999999999995" width="4.2" height="1.2" fill="#888" opacity="0.45"/><rect x="152.8" y="386.29999999999995" width="3" height="1.4" fill="#556677" opacity="0.6"/><rect x="144.8" y="400.45" width="11" height="2.6" fill="#0a0a0a"/><circle cx="150.25" cy="401.74999999999994" r="2.45" fill="#fff" stroke="#555" stroke-width="0.45"/><rect x="145.0" y="397.49999999999994" width="3" height="1.4" fill="#556655" opacity="0.6"/><rect x="148.20000000000002" y="397.49999999999994" width="4.2" height="1.2" fill="#888" opacity="0.45"/><rect x="152.8" y="397.49999999999994" width="3" height="1.4" fill="#556677" opacity="0.6"/><rect x="313.3" y="119.94999999999999" width="11" height="2.6" fill="#0a0a0a"/><circle cx="318.75" cy="121.25" r="2.45" fill="#fff" stroke="#555" stroke-width="0.45"/><rect x="313.5" y="117.0" width="3" height="1.4" fill="#556655" opacity="0.6"/><rect x="316.7" y="117.0" width="4.2" height="1.2" fill="#888" opacity="0.45"/><rect x="321.3" y="117.0" width="3" height="1.4" fill="#556677" opacity="0.6"/><rect x="313.3" y="130.85" width="11" height="2.6" fill="#0a0a0a"/><circle cx="318.75" cy="132.15" r="2.45" fill="#fff" stroke="#555" stroke-width="0.45"/><rect x="313.5" y="127.9" width="3" height="1.4" fill="#556655" opacity="0.6"/><rect x="316.7" y="127.9" width="4.2" height="1.2" fill="#888" opacity="0.45"/><rect x="321.3" y="127.9" width="3" height="1.4" fill="#556677" opacity="0.6"/><rect x="313.3" y="141.75" width="11" height="2.6" fill="#0a0a0a"/><circle cx="318.75" cy="143.05" r="2.45" fill="#fff" stroke="#555" stroke-width="0.45"/><rect x="313.5" y="138.8" width="3" height="1.4" fill="#556655" opacity="0.6"/><rect x="316.7" y="138.8" width="4.2" height="1.2" fill="#888" opacity="0.45"/><rect x="321.3" y="138.8" width="3" height="1.4" fill="#556677" opacity="0.6"/></svg>
<svg class="tx" width="720" height="540" viewBox="0 0 720 540"><text x="446.80" y="111.83" font-size="4.15" text-anchor="middle" fill="#222" stroke="#222" stroke-width="0.09">Bahnbetriebswerk</text><text x="481.00" y="111.83" font-size="4.15" text-anchor="middle" fill="#222" stroke="#222" stroke-width="0.09">Fernstrecke</text><text x="437.80" y="379.46" font-size="3.65" text-anchor="start" fill="#1a1a1a" stroke="#1a1a1a" stroke-width="0.13" transform="translate(0 379.46) skewX(0.5) translate(0 -379.46)" style="text-rendering:geometricPrecision;font-kerning:none">Rangierverkehr Aussen &gt;</text><text x="157.00" y="120.64" font-size="3.6" text-anchor="start" fill="#2424c0" stroke="#2424c0" stroke-width="0.1" font-weight="bold" font-style="italic" transform="translate(0 120.64) skewX(0.5) translate(0 -120.64)" style="text-rendering:geometricPrecision;font-kerning:none">Manuelle Fahrstrassen</text><text x="157.20" y="131.67" font-size="3.4" text-anchor="start" fill="#111" stroke="#111" stroke-width="0.13" font-weight="bold" transform="translate(0 131.67) skewX(0.5) translate(0 -131.67)" style="text-rendering:geometricPrecision;font-kerning:none">Nahverkehr</text><text x="157.20" y="243.87" font-size="3.4" text-anchor="start" fill="#111" stroke="#111" stroke-width="0.13" font-weight="bold" transform="translate(0 243.87) skewX(0.5) translate(0 -243.87)" style="text-rendering:geometricPrecision;font-kerning:none">Rangierverkehr: Block 10</text><text x="157.20" y="322.67" font-size="3.4" text-anchor="start" fill="#111" stroke="#111" stroke-width="0.13" font-weight="bold" transform="translate(0 322.67) skewX(0.5) translate(0 -322.67)" style="text-rendering:geometricPrecision;font-kerning:none">Rangierverkehr - Block 9</text><text x="157.20" y="142.86" font-size="3.65" text-anchor="start" fill="#1a1a1a" stroke="#1a1a1a" stroke-width="0.13" transform="translate(0 142.86) skewX(0.5) translate(0 -142.86)" style="text-rendering:geometricPrecision;font-kerning:none">Block 11&nbsp; - Block 11&nbsp; Aussen - Aussen</text><text x="157.20" y="154.16" font-size="3.65" text-anchor="start" fill="#1a1a1a" stroke="#1a1a1a" stroke-width="0.13" transform="translate(0 154.16) skewX(0.5) translate(0 -154.16)" style="text-rendering:geometricPrecision;font-kerning:none">Block 11 - Block 13&nbsp; Aussen - Innen - Aussen</text><text x="157.20" y="165.46" font-size="3.65" text-anchor="start" fill="#1a1a1a" stroke="#1a1a1a" stroke-width="0.13" transform="translate(0 165.46) skewX(0.5) translate(0 -165.46)" style="text-rendering:geometricPrecision;font-kerning:none">Block 13 - Block 11&nbsp; Innen - Aussen</text><text x="157.20" y="176.76" font-size="3.65" text-anchor="start" fill="#1a1a1a" stroke="#1a1a1a" stroke-width="0.13" transform="translate(0 176.76) skewX(0.5) translate(0 -176.76)" style="text-rendering:geometricPrecision;font-kerning:none">Block 11 - Block 11&nbsp; &nbsp; Aussen - Gegenrichtung</text><text x="157.20" y="188.06" font-size="3.65" text-anchor="start" fill="#1a1a1a" stroke="#1a1a1a" stroke-width="0.13" transform="translate(0 188.06) skewX(0.5) translate(0 -188.06)" style="text-rendering:geometricPrecision;font-kerning:none">Block 11&nbsp; - Aussen - Tunnel - Aussen</text><text x="157.20" y="255.56" font-size="3.65" text-anchor="start" fill="#1a1a1a" stroke="#1a1a1a" stroke-width="0.13" transform="translate(0 255.56) skewX(0.5) translate(0 -255.56)" style="text-rendering:geometricPrecision;font-kerning:none">Block 10 - Block 01&nbsp; &nbsp; (L3 - R1)</text><text x="157.20" y="266.73" font-size="3.65" text-anchor="start" fill="#1a1a1a" stroke="#1a1a1a" stroke-width="0.13" transform="translate(0 266.73) skewX(0.5) translate(0 -266.73)" style="text-rendering:geometricPrecision;font-kerning:none">Block 10 - Block 02&nbsp; &nbsp; (L3 - R2)</text><text x="157.20" y="277.90" font-size="3.65" text-anchor="start" fill="#1a1a1a" stroke="#1a1a1a" stroke-width="0.13" transform="translate(0 277.90) skewX(0.5) translate(0 -277.90)" style="text-rendering:geometricPrecision;font-kerning:none">Block 10 - Block 03&nbsp; &nbsp; (L3 - R3)</text><text x="157.20" y="289.07" font-size="3.65" text-anchor="start" fill="#1a1a1a" stroke="#1a1a1a" stroke-width="0.13" transform="translate(0 289.07) skewX(0.5) translate(0 -289.07)" style="text-rendering:geometricPrecision;font-kerning:none">Block 10 - Block 04&nbsp; &nbsp; (L3 - R4)</text><text x="157.20" y="300.24" font-size="3.65" text-anchor="start" fill="#1a1a1a" stroke="#1a1a1a" stroke-width="0.13" transform="translate(0 300.24) skewX(0.5) translate(0 -300.24)" style="text-rendering:geometricPrecision;font-kerning:none">Block 10 - Block 05&nbsp; &nbsp; (L3 - R5)</text><text x="157.20" y="311.41" font-size="3.65" text-anchor="start" fill="#2a2ad6" stroke="#2a2ad6" stroke-width="0.13" transform="translate(0 311.41) skewX(0.5) translate(0 -311.41)" style="text-rendering:geometricPrecision;font-kerning:none">Block 10 - Block 11 (Lockschuppen - Bl 11)</text><text x="157.20" y="334.16" font-size="3.65" text-anchor="start" fill="#1a1a1a" stroke="#1a1a1a" stroke-width="0.13" transform="translate(0 334.16) skewX(0.5) translate(0 -334.16)" style="text-rendering:geometricPrecision;font-kerning:none">Block 09 - Block 04&nbsp; &nbsp; (L2 - R4)</text><text x="157.20" y="345.36" font-size="3.65" text-anchor="start" fill="#1a1a1a" stroke="#1a1a1a" stroke-width="0.13" transform="translate(0 345.36) skewX(0.5) translate(0 -345.36)" style="text-rendering:geometricPrecision;font-kerning:none">Block 09 - Block 05&nbsp; &nbsp; (L2 - R5)</text><text x="157.20" y="356.56" font-size="3.65" text-anchor="start" fill="#1a1a1a" stroke="#1a1a1a" stroke-width="0.13" transform="translate(0 356.56) skewX(0.5) translate(0 -356.56)" style="text-rendering:geometricPrecision;font-kerning:none">Block 09 - Block 06&nbsp; &nbsp; (L2 - R6)</text><text x="157.20" y="367.76" font-size="3.65" text-anchor="start" fill="#1a1a1a" stroke="#1a1a1a" stroke-width="0.13" transform="translate(0 367.76) skewX(0.5) translate(0 -367.76)" style="text-rendering:geometricPrecision;font-kerning:none">Block 09 - Block 07&nbsp; &nbsp; (L2 - R7)</text><text x="157.20" y="378.96" font-size="3.65" text-anchor="start" fill="#1a1a1a" stroke="#1a1a1a" stroke-width="0.13" transform="translate(0 378.96) skewX(0.5) translate(0 -378.96)" style="text-rendering:geometricPrecision;font-kerning:none">Block 09 - Block 08&nbsp; &nbsp; (L2 - R8)</text><text x="157.20" y="390.16" font-size="3.65" text-anchor="start" fill="#1a1a1a" stroke="#1a1a1a" stroke-width="0.13" transform="translate(0 390.16) skewX(0.5) translate(0 -390.16)" style="text-rendering:geometricPrecision;font-kerning:none">Block 09 - Block 13&nbsp; &nbsp; (L2 - R8&nbsp; &nbsp; &nbsp; Lockschuppen Stopp &gt;</text><text x="157.20" y="401.36" font-size="3.65" text-anchor="start" fill="#1a1a1a" stroke="#1a1a1a" stroke-width="0.13" transform="translate(0 401.36) skewX(0.5) translate(0 -401.36)" style="text-rendering:geometricPrecision;font-kerning:none">Block 14 - Block 09&nbsp; &nbsp; (zurück zum Lockschuppen</text><text x="326.00" y="120.86" font-size="3.65" text-anchor="start" fill="#1a1a1a" stroke="#1a1a1a" stroke-width="0.13" transform="translate(0 120.86) skewX(0.5) translate(0 -120.86)" style="text-rendering:geometricPrecision;font-kerning:none">Block 09 - Block 19 - Lockschuppen - Aussenstrecke</text><text x="326.00" y="131.76" font-size="3.65" text-anchor="start" fill="#1a1a1a" stroke="#1a1a1a" stroke-width="0.13" transform="translate(0 131.76) skewX(0.5) translate(0 -131.76)" style="text-rendering:geometricPrecision;font-kerning:none">Halt Aussenstrecke - Block 19 (Besandung)</text><text x="326.00" y="142.66" font-size="3.65" text-anchor="start" fill="#1a1a1a" stroke="#1a1a1a" stroke-width="0.13" transform="translate(0 142.66) skewX(0.5) translate(0 -142.66)" style="text-rendering:geometricPrecision;font-kerning:none">Halt Aussenstrecke - Block 19 (Behohlung)</text></svg>
<svg width="720" height="540" viewBox="0 0 720 540"><path d="M510.20 116.00 L510.20 127.00" fill="none" stroke="#0c0c0c" stroke-width="2.6" stroke-linejoin="round"/><path d="M510.20 116.00 L510.20 127.00" fill="none" stroke="#dcd4d4" stroke-width="0.8" stroke-dasharray="3.5 5" stroke-dashoffset="0"/><path d="M454.30 160.00 L454.30 171.40 L464.80 180.50 L465.50 182.00" fill="none" stroke="#0c0c0c" stroke-width="3.0" stroke-linejoin="round"/><path d="M454.30 160.00 L454.30 171.40 L464.80 180.50 L465.50 182.00" fill="none" stroke="#dcd4d4" stroke-width="0.8" stroke-dasharray="3.5 5" stroke-dashoffset="0"/><path d="M465.60 160.00 L465.60 194.30 L459.50 200.00" fill="none" stroke="#0c0c0c" stroke-width="3.0" stroke-linejoin="round"/><path d="M465.60 160.00 L465.60 194.30 L459.50 200.00" fill="none" stroke="#dcd4d4" stroke-width="0.8" stroke-dasharray="3.5 5" stroke-dashoffset="0"/><path d="M487.80 160.00 L487.80 172.00 L477.00 182.00 L477.00 190.80 L471.00 200.00" fill="none" stroke="#0c0c0c" stroke-width="3.0" stroke-linejoin="round"/><path d="M487.80 160.00 L487.80 172.00 L477.00 182.00 L477.00 190.80 L471.00 200.00" fill="none" stroke="#dcd4d4" stroke-width="0.8" stroke-dasharray="3.5 5" stroke-dashoffset="0"/><path d="M510.20 171.00 L510.20 183.50 L505.50 188.30 L483.00 188.30 L478.00 192.00" fill="none" stroke="#0c0c0c" stroke-width="3.0" stroke-linejoin="round"/><path d="M510.20 171.00 L510.20 183.50 L505.50 188.30 L483.00 188.30 L478.00 192.00" fill="none" stroke="#dcd4d4" stroke-width="0.8" stroke-dasharray="3.5 5" stroke-dashoffset="0"/><rect x="449.6" y="115.7" width="9.399999999999977" height="44.60000000000001" rx="0.8" fill="#fbfbfb" stroke="#6a6a6a" stroke-width="0.8"/><text x="454.80" y="157.90" font-size="3.7" fill="#666" stroke="#666" stroke-width="0.08" transform="rotate(-90 454.80 157.90)">B18</text><rect x="460.8" y="115.7" width="9.5" height="44.60000000000001" rx="0.8" fill="#fbfbfb" stroke="#6a6a6a" stroke-width="0.8"/><text x="466.05" y="157.90" font-size="3.7" fill="#666" stroke="#666" stroke-width="0.08" transform="rotate(-90 466.05 157.90)">B19</text><rect x="483.2" y="115.7" width="9.300000000000011" height="44.60000000000001" rx="0.8" fill="#fbfbfb" stroke="#6a6a6a" stroke-width="0.8"/><text x="488.35" y="157.90" font-size="3.7" fill="#666" stroke="#666" stroke-width="0.08" transform="rotate(-90 488.35 157.90)">B20</text><rect x="505.2" y="126.5" width="9.599999999999966" height="45.0" rx="0.8" fill="#fbfbfb" stroke="#6a6a6a" stroke-width="0.8"/><text x="510.50" y="169.10" font-size="3.7" fill="#666" stroke="#666" stroke-width="0.08" transform="rotate(-90 510.50 169.10)">B01</text><circle cx="454.3" cy="165.8" r="2.1" fill="#2fd23a" stroke="#1f7a2a" stroke-width="0.45"/><circle cx="465.6" cy="165.8" r="2.1" fill="#2fd23a" stroke="#1f7a2a" stroke-width="0.45"/><circle cx="487.8" cy="165.8" r="2.1" fill="#2fd23a" stroke="#1f7a2a" stroke-width="0.45"/><circle cx="510.2" cy="177.2" r="2.1" fill="#2fd23a" stroke="#1f7a2a" stroke-width="0.45"/><rect x="462.2" y="178.8" width="2.4" height="2" fill="#e8e020" transform="rotate(-40 463.4 179.8)"/><rect x="460.8" y="196.2" width="2.4" height="2" fill="#e8e020" transform="rotate(-40 462 197.2)"/><rect x="477.8" y="189.4" width="2.4" height="2" fill="#e8e020" transform="rotate(-40 479 190.4)"/><rect x="449.6" y="161.5" width="0.9" height="8" fill="#8a8a8a" opacity="0.75"/><rect x="460.8" y="161.5" width="0.9" height="8" fill="#8a8a8a" opacity="0.75"/><rect x="483.1" y="161.5" width="0.9" height="8" fill="#8a8a8a" opacity="0.75"/><rect x="505.4" y="172.5" width="0.9" height="9" fill="#8a8a8a" opacity="0.75"/><rect x="469.6" y="172.5" width="0.9" height="7.5" fill="#8a8a8a" opacity="0.75"/><rect x="472.6" y="189" width="0.9" height="7" fill="#8a8a8a" opacity="0.75"/><rect x="570.4" y="205.8" width="0.9" height="4.6" fill="#8a8a8a" opacity="0.75"/><rect x="570.4" y="195" width="0.9" height="6" fill="#8a8a8a" opacity="0.75"/><rect x="581.6" y="351.8" width="0.9" height="5" fill="#8a8a8a" opacity="0.75"/><rect x="561.6" y="279" width="0.9" height="4.5" fill="#8a8a8a" opacity="0.75"/><rect x="570.5" y="284" width="0.9" height="7.5" fill="#8a8a8a" opacity="0.75"/><rect x="550.5" y="206.9" width="8" height="0.9" fill="#8a8a8a" opacity="0.75"/><rect x="561.5" y="352.7" width="8" height="0.9" fill="#8a8a8a" opacity="0.75"/><rect x="550.5" y="363.8" width="8" height="0.9" fill="#8a8a8a" opacity="0.75"/><rect x="551.8" y="127.8" width="6.6" height="1.7" rx="0.8" fill="#111"/><path d="M555 129.5V137" stroke="#111" stroke-width="2.6"/><path d="M555 130V135" stroke="#8a8a8a" stroke-width="1.2"/><path d="M555.00 136.50 L566.60 149.50" fill="none" stroke="#0c0c0c" stroke-width="3.0" stroke-linejoin="round"/><path d="M555.00 136.50 L566.60 149.50" fill="none" stroke="#dcd4d4" stroke-width="0.8" stroke-dasharray="3.5 5" stroke-dashoffset="0"/><circle cx="554.9" cy="143" r="2.1" fill="#2fd23a" stroke="#1f7a2a" stroke-width="0.45"/><rect x="551.5" y="146.6" width="7" height="0.8" fill="#888"/><rect x="562" y="149.2" width="9" height="44.10000000000002" rx="0.8" fill="#fbfbfb" stroke="#6a6a6a" stroke-width="0.8"/><text x="567.00" y="190.90" font-size="3.7" fill="#666" stroke="#666" stroke-width="0.08" transform="rotate(-90 567.00 190.90)">B02</text><text x="577.6" y="195.2" font-size="4.05" fill="#3a3a3a" stroke="#3a3a3a" stroke-width="0.06" transform="rotate(-90 577.6 195.2)">Ar Altdorf Drehscheibe</text><path d="M566.50 193.00 L566.50 339.00" fill="none" stroke="#0c0c0c" stroke-width="3.0" stroke-linejoin="round"/><path d="M566.50 193.00 L566.50 339.00" fill="none" stroke="#8e8e8e" stroke-width="2.3" stroke-dasharray="4.2 1.8" stroke-dashoffset="0"/><path d="M566.50 338.00 L560.50 345.30 L538.50 345.30" fill="none" stroke="#0c0c0c" stroke-width="3.0" stroke-linejoin="round"/><path d="M566.50 338.00 L560.50 345.30 L538.50 345.30" fill="none" stroke="#dcd4d4" stroke-width="0.8" stroke-dasharray="3.5 5" stroke-dashoffset="0"/><path d="M566.50 273.70 L577.90 283.00" fill="none" stroke="#0c0c0c" stroke-width="3.0" stroke-linejoin="round"/><path d="M566.50 273.70 L577.90 283.00" fill="none" stroke="#dcd4d4" stroke-width="0.8" stroke-dasharray="3.5 5" stroke-dashoffset="0"/><path d="M577.90 282.50 L577.90 361.50" fill="none" stroke="#0c0c0c" stroke-width="3.0" stroke-linejoin="round"/><path d="M577.90 282.50 L577.90 361.50" fill="none" stroke="#8e8e8e" stroke-width="2.3" stroke-dasharray="4.2 1.8" stroke-dashoffset="1"/><path d="M577.90 360.50 L572.00 367.70 L538.50 367.70" fill="none" stroke="#0c0c0c" stroke-width="3.0" stroke-linejoin="round"/><path d="M577.90 360.50 L572.00 367.70 L538.50 367.70" fill="none" stroke="#dcd4d4" stroke-width="0.8" stroke-dasharray="3.5 5" stroke-dashoffset="0"/><path d="M538.50 356.60 L572.50 356.60 L577.90 351.30" fill="none" stroke="#0c0c0c" stroke-width="3.0" stroke-linejoin="round"/><path d="M538.50 356.60 L572.50 356.60 L577.90 351.30" fill="none" stroke="#dcd4d4" stroke-width="0.8" stroke-dasharray="3.5 5" stroke-dashoffset="0"/><path d="M538.50 210.70 L560.00 210.70 L566.50 216.50" fill="none" stroke="#0c0c0c" stroke-width="3.0" stroke-linejoin="round"/><path d="M538.50 210.70 L560.00 210.70 L566.50 216.50" fill="none" stroke="#dcd4d4" stroke-width="0.8" stroke-dasharray="3.5 5" stroke-dashoffset="0"/><circle cx="566.5" cy="199.7" r="2.1" fill="#2fd23a" stroke="#1f7a2a" stroke-width="0.45"/><circle cx="555" cy="210.6" r="2.1" fill="#2fd23a" stroke="#1f7a2a" stroke-width="0.45"/><circle cx="566.5" cy="289.7" r="2.1" fill="#2fd23a" stroke="#1f7a2a" stroke-width="0.45"/><circle cx="566.3" cy="356.6" r="2.1" fill="#2fd23a" stroke="#1f7a2a" stroke-width="0.45"/><circle cx="555" cy="367.7" r="2.1" fill="#2fd23a" stroke="#1f7a2a" stroke-width="0.45"/><rect x="562.0999999999999" y="212" width="2.4" height="2" fill="#e8e020" transform="rotate(-40 563.3 213)"/><rect x="568.0" y="274.4" width="2.4" height="2" fill="#e8e020" transform="rotate(-40 569.2 275.4)"/><rect x="573.4" y="353.2" width="2.4" height="2" fill="#e8e020" transform="rotate(-40 574.6 354.2)"/><rect x="530.5" y="206.29999999999998" width="8.2" height="8.8" fill="#f7f7f7" stroke="#8a8a8a" stroke-width="0.5"/><path d="M538 221.92H547" stroke="#0c0c0c" stroke-width="2.8"/><path d="M541.3 221.92H546" stroke="#e4e0e0" stroke-width="0.9"/><rect x="546.4" y="218.51999999999998" width="1.7" height="6.8" rx="0.5" fill="#111"/><rect x="530.5" y="217.51999999999998" width="8.2" height="8.8" fill="#f7f7f7" stroke="#8a8a8a" stroke-width="0.5"/><path d="M538 233.14H547" stroke="#0c0c0c" stroke-width="2.8"/><path d="M541.3 233.14H546" stroke="#e4e0e0" stroke-width="0.9"/><rect x="546.4" y="229.73999999999998" width="1.7" height="6.8" rx="0.5" fill="#111"/><rect x="530.5" y="228.73999999999998" width="8.2" height="8.8" fill="#f7f7f7" stroke="#8a8a8a" stroke-width="0.5"/><path d="M538 255.57999999999998H547" stroke="#0c0c0c" stroke-width="2.8"/><path d="M541.3 255.57999999999998H546" stroke="#e4e0e0" stroke-width="0.9"/><rect x="546.4" y="252.17999999999998" width="1.7" height="6.8" rx="0.5" fill="#111"/><rect x="530.5" y="251.17999999999998" width="8.2" height="8.8" fill="#f7f7f7" stroke="#8a8a8a" stroke-width="0.5"/><path d="M538 266.8H547" stroke="#0c0c0c" stroke-width="2.8"/><path d="M541.3 266.8H546" stroke="#e4e0e0" stroke-width="0.9"/><rect x="546.4" y="263.40000000000003" width="1.7" height="6.8" rx="0.5" fill="#111"/><rect x="530.5" y="262.40000000000003" width="8.2" height="8.8" fill="#f7f7f7" stroke="#8a8a8a" stroke-width="0.5"/><path d="M538 278.02H547" stroke="#0c0c0c" stroke-width="2.8"/><path d="M541.3 278.02H546" stroke="#e4e0e0" stroke-width="0.9"/><rect x="546.4" y="274.62" width="1.7" height="6.8" rx="0.5" fill="#111"/><rect x="530.5" y="273.62" width="8.2" height="8.8" fill="#f7f7f7" stroke="#8a8a8a" stroke-width="0.5"/><path d="M538 289.24H547" stroke="#0c0c0c" stroke-width="2.8"/><path d="M541.3 289.24H546" stroke="#e4e0e0" stroke-width="0.9"/><rect x="546.4" y="285.84000000000003" width="1.7" height="6.8" rx="0.5" fill="#111"/><rect x="530.5" y="284.84000000000003" width="8.2" height="8.8" fill="#f7f7f7" stroke="#8a8a8a" stroke-width="0.5"/><path d="M538 300.46H547" stroke="#0c0c0c" stroke-width="2.8"/><path d="M541.3 300.46H546" stroke="#e4e0e0" stroke-width="0.9"/><rect x="546.4" y="297.06" width="1.7" height="6.8" rx="0.5" fill="#111"/><rect x="530.5" y="296.06" width="8.2" height="8.8" fill="#f7f7f7" stroke="#8a8a8a" stroke-width="0.5"/><path d="M538 311.68H547" stroke="#0c0c0c" stroke-width="2.8"/><path d="M541.3 311.68H546" stroke="#e4e0e0" stroke-width="0.9"/><rect x="546.4" y="308.28000000000003" width="1.7" height="6.8" rx="0.5" fill="#111"/><rect x="530.5" y="307.28000000000003" width="8.2" height="8.8" fill="#f7f7f7" stroke="#8a8a8a" stroke-width="0.5"/><path d="M538 322.9H547" stroke="#0c0c0c" stroke-width="2.8"/><path d="M541.3 322.9H546" stroke="#e4e0e0" stroke-width="0.9"/><rect x="546.4" y="319.5" width="1.7" height="6.8" rx="0.5" fill="#111"/><rect x="530.5" y="318.5" width="8.2" height="8.8" fill="#f7f7f7" stroke="#8a8a8a" stroke-width="0.5"/><path d="M538 334.12H547" stroke="#0c0c0c" stroke-width="2.8"/><path d="M541.3 334.12H546" stroke="#e4e0e0" stroke-width="0.9"/><rect x="546.4" y="330.72" width="1.7" height="6.8" rx="0.5" fill="#111"/><rect x="530.5" y="329.72" width="8.2" height="8.8" fill="#f7f7f7" stroke="#8a8a8a" stroke-width="0.5"/><rect x="530.5" y="340.94000000000005" width="8.2" height="8.8" fill="#f7f7f7" stroke="#8a8a8a" stroke-width="0.5"/><rect x="530.5" y="352.16" width="8.2" height="8.8" fill="#f7f7f7" stroke="#8a8a8a" stroke-width="0.5"/><rect x="530.5" y="363.38" width="8.2" height="8.8" fill="#bdbdbd" stroke="#8a8a8a" stroke-width="0.5"/></svg>
<div class="a" style="left:616.50px;top:137.60px;width:22.40px;height:11.20px;background:#dedede;border:0.7px solid #8e8e8e;box-shadow:inset 0 0 0 0.5px #f2f2f2"></div>
<div class="a" style="left:616.50px;top:148.80px;width:22.40px;height:11.20px;background:#dedede;border:0.7px solid #8e8e8e;box-shadow:inset 0 0 0 0.5px #f2f2f2"></div>
<div class="a" style="left:650.40px;top:137.60px;width:22.40px;height:11.20px;background:#dedede;border:0.7px solid #8e8e8e;box-shadow:inset 0 0 0 0.5px #f2f2f2"></div>
<div class="a" style="left:650.40px;top:148.80px;width:22.40px;height:11.20px;background:#dedede;border:0.7px solid #8e8e8e;box-shadow:inset 0 0 0 0.5px #f2f2f2"></div>
<div class="a" style="left:684.30px;top:137.60px;width:22.40px;height:11.20px;background:#dedede;border:0.7px solid #8e8e8e;box-shadow:inset 0 0 0 0.5px #f2f2f2"></div>
<div class="a" style="left:684.30px;top:148.80px;width:22.40px;height:11.20px;background:#dedede;border:0.7px solid #8e8e8e;box-shadow:inset 0 0 0 0.5px #f2f2f2"></div>
<div class="a" style="left:607.50px;top:185.20px;width:6.80px;height:6.40px;background:#4ee84e;box-shadow:0 0 0 0.6px #5a8a5a"></div>
<div class="a" style="left:642.30px;top:185.40px;width:6.10px;height:5.80px;background:#f02424;box-shadow:0 0 0 0.6px #8a4a4a"></div>
<div class="a" style="left:605.60px;top:182.90px;width:10.00px;height:1.10px;background:#555;opacity:.6"></div>
<div class="a" style="left:640.50px;top:182.90px;width:10.00px;height:1.10px;background:#555;opacity:.6"></div>
<div class="a" style="left:616.50px;top:182.60px;width:22.40px;height:11.20px;background:#dedede;border:0.7px solid #8e8e8e;box-shadow:inset 0 0 0 0.5px #f2f2f2"></div>
<div class="a" style="left:650.40px;top:182.60px;width:22.40px;height:11.20px;background:#dedede;border:0.7px solid #8e8e8e;box-shadow:inset 0 0 0 0.5px #f2f2f2"></div>
<div class="a" style="left:616.50px;top:216.00px;width:22.40px;height:11.20px;background:#dedede;border:0.7px solid #8e8e8e;box-shadow:inset 0 0 0 0.5px #f2f2f2"></div>
<div class="a" style="left:616.50px;top:227.20px;width:22.40px;height:11.20px;background:#dedede;border:0.7px solid #8e8e8e;box-shadow:inset 0 0 0 0.5px #f2f2f2"></div>
<div class="a" style="left:650.40px;top:216.00px;width:22.40px;height:11.20px;background:#dedede;border:0.7px solid #8e8e8e;box-shadow:inset 0 0 0 0.5px #f2f2f2"></div>
<div class="a" style="left:650.40px;top:227.20px;width:22.40px;height:11.20px;background:#dedede;border:0.7px solid #8e8e8e;box-shadow:inset 0 0 0 0.5px #f2f2f2"></div>
<div class="a" style="left:684.30px;top:216.00px;width:22.40px;height:11.20px;background:#dedede;border:0.7px solid #8e8e8e;box-shadow:inset 0 0 0 0.5px #f2f2f2"></div>
<div class="a" style="left:684.30px;top:227.20px;width:22.40px;height:11.20px;background:#dedede;border:0.7px solid #8e8e8e;box-shadow:inset 0 0 0 0.5px #f2f2f2"></div>
<div class="a" style="left:642.30px;top:253.20px;width:5.80px;height:5.40px;background:#f02a2a;box-shadow:0 0 0 0.5px #888"></div>
<div class="a" style="left:641.00px;top:250.60px;width:8.00px;height:0.90px;background:#777;opacity:.6"></div>
<div class="a" style="left:650.40px;top:250.20px;width:22.40px;height:11.20px;background:#dedede;border:0.7px solid #8e8e8e;box-shadow:inset 0 0 0 0.5px #f2f2f2"></div>
<div class="a" style="left:616.50px;top:261.30px;width:22.40px;height:11.20px;background:#dedede;border:0.7px solid #8e8e8e;box-shadow:inset 0 0 0 0.5px #f2f2f2"></div>
<div class="a" style="left:616.50px;top:272.50px;width:22.40px;height:11.20px;background:#dedede;border:0.7px solid #8e8e8e;box-shadow:inset 0 0 0 0.5px #f2f2f2"></div>
<div class="a" style="left:616.50px;top:283.70px;width:22.40px;height:11.20px;background:#dedede;border:0.7px solid #8e8e8e;box-shadow:inset 0 0 0 0.5px #f2f2f2"></div>
<div class="a" style="left:650.40px;top:261.30px;width:22.40px;height:11.20px;background:#dedede;border:0.7px solid #8e8e8e;box-shadow:inset 0 0 0 0.5px #f2f2f2"></div>
<div class="a" style="left:650.40px;top:272.50px;width:22.40px;height:11.20px;background:#dedede;border:0.7px solid #8e8e8e;box-shadow:inset 0 0 0 0.5px #f2f2f2"></div>
<div class="a" style="left:650.40px;top:283.70px;width:22.40px;height:11.20px;background:#dedede;border:0.7px solid #8e8e8e;box-shadow:inset 0 0 0 0.5px #f2f2f2"></div>
<div class="a" style="left:684.30px;top:261.30px;width:22.40px;height:11.20px;background:#dedede;border:0.7px solid #8e8e8e;box-shadow:inset 0 0 0 0.5px #f2f2f2"></div>
<div class="a" style="left:684.30px;top:272.50px;width:22.40px;height:11.20px;background:#dedede;border:0.7px solid #8e8e8e;box-shadow:inset 0 0 0 0.5px #f2f2f2"></div>
<div class="a" style="left:684.30px;top:283.70px;width:22.40px;height:11.20px;background:#dedede;border:0.7px solid #8e8e8e;box-shadow:inset 0 0 0 0.5px #f2f2f2"></div>
<div class="a" style="left:607.80px;top:308.90px;width:6.10px;height:6.10px;background:#f02a2a;box-shadow:0 0 0 0.5px #888"></div>
<div class="a" style="left:607.00px;top:306.30px;width:8.00px;height:0.90px;background:#777;opacity:.6"></div>
<div class="a" style="left:616.50px;top:306.10px;width:22.40px;height:11.20px;background:#dedede;border:0.7px solid #8e8e8e;box-shadow:inset 0 0 0 0.5px #f2f2f2"></div>
<div class="a" style="left:650.40px;top:306.10px;width:22.40px;height:11.20px;background:#dedede;border:0.7px solid #8e8e8e;box-shadow:inset 0 0 0 0.5px #f2f2f2"></div>
<div class="a" style="left:650.40px;top:317.30px;width:22.40px;height:11.20px;background:#dedede;border:0.7px solid #8e8e8e;box-shadow:inset 0 0 0 0.5px #f2f2f2"></div>
<div class="a" style="left:650.40px;top:328.50px;width:22.40px;height:11.20px;background:#dedede;border:0.7px solid #8e8e8e;box-shadow:inset 0 0 0 0.5px #f2f2f2"></div>
<div class="a" style="left:684.30px;top:306.10px;width:22.40px;height:11.20px;background:#dedede;border:0.7px solid #8e8e8e;box-shadow:inset 0 0 0 0.5px #f2f2f2"></div>
<div class="a" style="left:684.30px;top:317.30px;width:22.40px;height:11.20px;background:#dedede;border:0.7px solid #8e8e8e;box-shadow:inset 0 0 0 0.5px #f2f2f2"></div>
<div class="a" style="left:684.30px;top:328.50px;width:22.40px;height:11.20px;background:#dedede;border:0.7px solid #8e8e8e;box-shadow:inset 0 0 0 0.5px #f2f2f2"></div>
<svg class="tx" width="720" height="540" viewBox="0 0 720 540"><text x="606.40" y="131.64" font-size="3.6" text-anchor="start" fill="#3030ec" transform="translate(0 131.64) skewX(0.5) translate(0 -131.64)" style="text-rendering:geometricPrecision;font-kerning:none">Rückfahrten aus dem Bahnbetriebswerk</text><text x="617.80" y="142.97" font-size="3.7" text-anchor="start" fill="#3a3a3a" transform="translate(0 142.97) skewX(0.5) translate(0 -142.97)" style="text-rendering:geometricPrecision;font-kerning:none">18 - 10 RF</text><text x="617.80" y="154.17" font-size="3.7" text-anchor="start" fill="#3a3a3a" transform="translate(0 154.17) skewX(0.5) translate(0 -154.17)" style="text-rendering:geometricPrecision;font-kerning:none">18 - 09 RF</text><text x="651.70" y="142.97" font-size="3.7" text-anchor="start" fill="#3a3a3a" transform="translate(0 142.97) skewX(0.5) translate(0 -142.97)" style="text-rendering:geometricPrecision;font-kerning:none">19 - 10 RF</text><text x="651.70" y="154.17" font-size="3.7" text-anchor="start" fill="#3a3a3a" transform="translate(0 154.17) skewX(0.5) translate(0 -154.17)" style="text-rendering:geometricPrecision;font-kerning:none">19 - 09 RF</text><text x="685.60" y="142.97" font-size="3.7" text-anchor="start" fill="#3a3a3a" transform="translate(0 142.97) skewX(0.5) translate(0 -142.97)" style="text-rendering:geometricPrecision;font-kerning:none">20 - 10 RF</text><text x="685.60" y="154.17" font-size="3.7" text-anchor="start" fill="#3a3a3a" transform="translate(0 154.17) skewX(0.5) translate(0 -154.17)" style="text-rendering:geometricPrecision;font-kerning:none">20 - 09 RF</text><text x="606.40" y="176.64" font-size="3.6" text-anchor="start" fill="#3030ec" transform="translate(0 176.64) skewX(0.5) translate(0 -176.64)" style="text-rendering:geometricPrecision;font-kerning:none">Fernverkehr</text><text x="617.80" y="187.97" font-size="3.7" text-anchor="start" fill="#3a3a3a" transform="translate(0 187.97) skewX(0.5) translate(0 -187.97)" style="text-rendering:geometricPrecision;font-kerning:none">B12&lt; /12- N</text><text x="651.70" y="187.97" font-size="3.7" text-anchor="start" fill="#3a3a3a" transform="translate(0 187.97) skewX(0.5) translate(0 -187.97)" style="text-rendering:geometricPrecision;font-kerning:none">B02l&lt; 11/24&lt;</text><text x="606.40" y="199.04" font-size="3.6" text-anchor="start" fill="#222" transform="translate(0 199.04) skewX(0.5) translate(0 -199.04)" style="text-rendering:geometricPrecision;font-kerning:none">Fernstrecke Aussen&nbsp; Tunnel Gegenrichtur</text><text x="606.40" y="210.54" font-size="3.6" text-anchor="start" fill="#3030ec" transform="translate(0 210.54) skewX(0.5) translate(0 -210.54)" style="text-rendering:geometricPrecision;font-kerning:none">Rangierverkehr zum Bahnbetriebswerk</text><text x="617.80" y="221.37" font-size="3.7" text-anchor="start" fill="#3a3a3a" transform="translate(0 221.37) skewX(0.5) translate(0 -221.37)" style="text-rendering:geometricPrecision;font-kerning:none">10 - 18 HF</text><text x="617.80" y="232.57" font-size="3.7" text-anchor="start" fill="#3a3a3a" transform="translate(0 232.57) skewX(0.5) translate(0 -232.57)" style="text-rendering:geometricPrecision;font-kerning:none">09 - 18 HF</text><text x="651.70" y="221.37" font-size="3.7" text-anchor="start" fill="#3a3a3a" transform="translate(0 221.37) skewX(0.5) translate(0 -221.37)" style="text-rendering:geometricPrecision;font-kerning:none">10 - 19 HF</text><text x="651.70" y="232.57" font-size="3.7" text-anchor="start" fill="#3a3a3a" transform="translate(0 232.57) skewX(0.5) translate(0 -232.57)" style="text-rendering:geometricPrecision;font-kerning:none">09 - 19 HF</text><text x="685.60" y="221.37" font-size="3.7" text-anchor="start" fill="#3a3a3a" transform="translate(0 221.37) skewX(0.5) translate(0 -221.37)" style="text-rendering:geometricPrecision;font-kerning:none">10 - 20 HF</text><text x="685.60" y="232.57" font-size="3.7" text-anchor="start" fill="#3a3a3a" transform="translate(0 232.57) skewX(0.5) translate(0 -232.57)" style="text-rendering:geometricPrecision;font-kerning:none">09 - 20 HF</text><text x="606.40" y="243.94" font-size="3.6" text-anchor="start" fill="#3030ec" transform="translate(0 243.94) skewX(0.5) translate(0 -243.94)" style="text-rendering:geometricPrecision;font-kerning:none">Rangierverkehr zu den Abstellgleisen</text><text x="651.70" y="255.57" font-size="3.7" text-anchor="start" fill="#3a3a3a" transform="translate(0 255.57) skewX(0.5) translate(0 -255.57)" style="text-rendering:geometricPrecision;font-kerning:none">10 - 10 HRF</text><text x="617.80" y="266.67" font-size="3.7" text-anchor="start" fill="#3a3a3a" transform="translate(0 266.67) skewX(0.5) translate(0 -266.67)" style="text-rendering:geometricPrecision;font-kerning:none">10 - 05 HRF</text><text x="617.80" y="277.87" font-size="3.7" text-anchor="start" fill="#3a3a3a" transform="translate(0 277.87) skewX(0.5) translate(0 -277.87)" style="text-rendering:geometricPrecision;font-kerning:none">10 - 05 HF</text><text x="617.80" y="289.07" font-size="3.7" text-anchor="start" fill="#3a3a3a" transform="translate(0 289.07) skewX(0.5) translate(0 -289.07)" style="text-rendering:geometricPrecision;font-kerning:none">05 - 10 RF</text><text x="651.70" y="266.67" font-size="3.7" text-anchor="start" fill="#3a3a3a" transform="translate(0 266.67) skewX(0.5) translate(0 -266.67)" style="text-rendering:geometricPrecision;font-kerning:none">10 - 04 HRF</text><text x="651.70" y="277.87" font-size="3.7" text-anchor="start" fill="#3a3a3a" transform="translate(0 277.87) skewX(0.5) translate(0 -277.87)" style="text-rendering:geometricPrecision;font-kerning:none">10 - 04 HF</text><text x="651.70" y="289.07" font-size="3.7" text-anchor="start" fill="#3a3a3a" transform="translate(0 289.07) skewX(0.5) translate(0 -289.07)" style="text-rendering:geometricPrecision;font-kerning:none">04 - 10 RF</text><text x="685.60" y="266.67" font-size="3.7" text-anchor="start" fill="#3a3a3a" transform="translate(0 266.67) skewX(0.5) translate(0 -266.67)" style="text-rendering:geometricPrecision;font-kerning:none">10 - 03 HRF</text><text x="685.60" y="277.87" font-size="3.7" text-anchor="start" fill="#3a3a3a" transform="translate(0 277.87) skewX(0.5) translate(0 -277.87)" style="text-rendering:geometricPrecision;font-kerning:none">10 - 03 HF</text><text x="685.60" y="289.07" font-size="3.7" text-anchor="start" fill="#3a3a3a" transform="translate(0 289.07) skewX(0.5) translate(0 -289.07)" style="text-rendering:geometricPrecision;font-kerning:none">03 - 10 RF</text><text x="617.80" y="311.47" font-size="3.7" text-anchor="start" fill="#3a3a3a" transform="translate(0 311.47) skewX(0.5) translate(0 -311.47)" style="text-rendering:geometricPrecision;font-kerning:none">09 - 09 HRF</text><text x="651.70" y="311.47" font-size="3.7" text-anchor="start" fill="#3a3a3a" transform="translate(0 311.47) skewX(0.5) translate(0 -311.47)" style="text-rendering:geometricPrecision;font-kerning:none">09 - 06 HRF</text><text x="651.70" y="322.67" font-size="3.7" text-anchor="start" fill="#3a3a3a" transform="translate(0 322.67) skewX(0.5) translate(0 -322.67)" style="text-rendering:geometricPrecision;font-kerning:none">09 - 06 HF</text><text x="651.70" y="333.87" font-size="3.7" text-anchor="start" fill="#3a3a3a" transform="translate(0 333.87) skewX(0.5) translate(0 -333.87)" style="text-rendering:geometricPrecision;font-kerning:none">06 - 09 RF</text><text x="685.60" y="311.47" font-size="3.7" text-anchor="start" fill="#3a3a3a" transform="translate(0 311.47) skewX(0.5) translate(0 -311.47)" style="text-rendering:geometricPrecision;font-kerning:none">09 - 07 HRF</text><text x="685.60" y="322.67" font-size="3.7" text-anchor="start" fill="#3a3a3a" transform="translate(0 322.67) skewX(0.5) translate(0 -322.67)" style="text-rendering:geometricPrecision;font-kerning:none">09 - 07 HF</text><text x="685.60" y="333.87" font-size="3.7" text-anchor="start" fill="#3a3a3a" transform="translate(0 333.87) skewX(0.5) translate(0 -333.87)" style="text-rendering:geometricPrecision;font-kerning:none">07 - 09 RF</text></svg>
<div class="a" style="left:278.20px;top:198.60px;width:252.30px;height:178.30px;background:#ececec;border-radius:2.5px 2.5px 1px 1px;box-shadow:0 5px 16px 2px rgba(0,0,0,.42),0 0 0 0.5px rgba(0,0,0,.25)"></div>
<div class="a" style="left:278.20px;top:198.60px;width:252.30px;height:7.00px;background:linear-gradient(#e9e9e9,#e1e1e1);border-radius:2.5px 2.5px 0 0;border-bottom:0.5px solid #d0d0d0"></div>
<svg width="720" height="540" viewBox="0 0 720 540"><circle cx="282.6" cy="202.1" r="1.9" fill="#fc5e57" stroke="#de4a44" stroke-width="0.3"/><circle cx="288.6" cy="202.1" r="1.9" fill="#d3d3d3" stroke="#bcbcbc" stroke-width="0.3"/><circle cx="294.7" cy="202.1" r="1.9" fill="#35c84a" stroke="#22a032" stroke-width="0.3"/></svg>
<div class="a" style="left:282.00px;top:211.80px;width:244.20px;height:145.00px;background:#e2e2e2;box-shadow:0 0 0 0.5px #d4d4d4;border-radius:1px"></div>
<div class="a" style="left:378.60px;top:212.20px;width:5.60px;height:144.50px;background:#e7e7e7"></div>
<div class="a" style="left:358.20px;top:208.80px;width:92.50px;height:5.80px;background:#fcfcfc;box-shadow:0 0 0 0.5px #c9c9c9;border-radius:1px"></div>
<div class="a" style="left:383.30px;top:208.80px;width:15.30px;height:5.80px;background:linear-gradient(#6aa8f8,#2a7ff0)"></div>
<div class="a" style="left:325.80px;top:222.30px;width:45.70px;height:5.90px;background:#fff;box-shadow:0 0 0 0.5px #c4c4c4"></div>
<div class="a" style="left:325.80px;top:230.60px;width:16.00px;height:5.40px;background:#fff;box-shadow:0 0 0 0.5px #c4c4c4"></div>
<div class="a" style="left:343.60px;top:230.80px;width:1.60px;height:5.00px;background:#f6f6f6;box-shadow:0 0 0 0.4px #c8c8c8;border-radius:0.6px"></div>
<div class="a" style="left:325.80px;top:238.80px;width:16.00px;height:5.40px;background:#fff;box-shadow:0 0 0 0.5px #c4c4c4"></div>
<div class="a" style="left:343.60px;top:239.00px;width:1.60px;height:5.00px;background:#f6f6f6;box-shadow:0 0 0 0.4px #c8c8c8;border-radius:0.6px"></div>
<div class="a" style="left:325.80px;top:245.80px;width:16.00px;height:5.40px;background:#fff;box-shadow:0 0 0 0.5px #c4c4c4"></div>
<div class="a" style="left:343.60px;top:246.00px;width:1.60px;height:5.00px;background:#f6f6f6;box-shadow:0 0 0 0.4px #c8c8c8;border-radius:0.6px"></div>
<div class="a" style="left:325.80px;top:253.30px;width:16.00px;height:5.40px;background:#fff;box-shadow:0 0 0 0.5px #c4c4c4"></div>
<div class="a" style="left:343.60px;top:253.50px;width:1.60px;height:5.00px;background:#f6f6f6;box-shadow:0 0 0 0.4px #c8c8c8;border-radius:0.6px"></div>
<div class="a" style="left:325.80px;top:261.70px;width:22.20px;height:5.40px;background:#fff;box-shadow:0 0 0 0.5px #c4c4c4"></div>
<div class="a" style="left:350.20px;top:261.90px;width:1.60px;height:5.00px;background:#f6f6f6;box-shadow:0 0 0 0.4px #c8c8c8;border-radius:0.6px"></div>
<div class="a" style="left:287.20px;top:276.40px;width:85.60px;height:9.60px;background:#d8d8d8;border-radius:1.5px"></div>
<svg width="720" height="540" viewBox="0 0 720 540"><circle cx="292.6" cy="281.3" r="1.7" fill="#fff" stroke="#bbb" stroke-width="0.3"/><circle cx="319.3" cy="281.3" r="1.8" fill="#3a8af5" stroke="#2a6ad0" stroke-width="0.3"/><circle cx="319.3" cy="281.3" r="0.65" fill="#fff"/><circle cx="346.0" cy="281.3" r="1.7" fill="#fff" stroke="#bbb" stroke-width="0.3"/></svg>
<svg width="720" height="540" viewBox="0 0 720 540"><circle cx="286.7" cy="368" r="2.4" fill="#fafafa" stroke="#c0c0c0" stroke-width="0.4"/><text x="286.7" y="369.2" font-size="3.2" text-anchor="middle" fill="#333">?</text></svg>
<div class="a" style="left:384.20px;top:219.00px;width:137.00px;height:60.30px;background:#fff;box-shadow:0 0 0 0.5px #cfcfcf"></div>
<div class="a" style="left:384.20px;top:219.00px;width:15.10px;height:60.30px;background:#f1f1f1"></div>
<div class="a" style="left:384.20px;top:219.00px;width:137.00px;height:5.60px;background:#ededed;border-bottom:0.5px solid #dcdcdc"></div>
<svg width="720" height="540" viewBox="0 0 720 540"><rect x="399.3" y="219" width="0.5" height="24.5" fill="#dedede"/><rect x="417.7" y="219" width="0.5" height="24.5" fill="#dedede"/><rect x="430" y="219" width="0.5" height="24.5" fill="#dedede"/><rect x="442.9" y="219" width="0.5" height="24.5" fill="#dedede"/><rect x="460.5" y="219" width="0.5" height="24.5" fill="#dedede"/><rect x="468.5" y="219" width="0.5" height="24.5" fill="#dedede"/><rect x="384.2" y="224.8" width="84.3" height="0.4" fill="#e4e4e4"/><rect x="384.2" y="230.9" width="84.3" height="0.4" fill="#e4e4e4"/><rect x="384.2" y="237.0" width="84.3" height="0.4" fill="#e4e4e4"/><rect x="384.2" y="243.10000000000002" width="84.3" height="0.4" fill="#e4e4e4"/><rect x="399.6" y="225.3" width="18" height="6" fill="#fff" stroke="#333" stroke-width="0.5"/></svg>
<div class="a" style="left:385.70px;top:288.40px;width:64.90px;height:6.00px;background:#fff;box-shadow:0 0.3px 0.6px rgba(0,0,0,.2),0 0 0 0.4px #c8c8c8;border-radius:1px"></div>
<div class="a" style="left:445.00px;top:288.40px;width:5.60px;height:6.00px;background:linear-gradient(#6aaaf8,#2a7ff0);border-radius:0 1px 1px 0"></div>
<div class="a" style="left:454.60px;top:288.40px;width:64.80px;height:6.00px;background:#fff;box-shadow:0 0.3px 0.6px rgba(0,0,0,.2),0 0 0 0.4px #c8c8c8;border-radius:1px"></div>
<div class="a" style="left:513.80px;top:288.40px;width:5.60px;height:6.00px;background:linear-gradient(#6aaaf8,#2a7ff0);border-radius:0 1px 1px 0"></div>
<div class="a" style="left:385.70px;top:297.80px;width:25.30px;height:5.10px;background:#fdfdfd;box-shadow:0 0.3px 0.6px rgba(0,0,0,.25),0 0 0 0.4px #c6c6c6;border-radius:1px"></div>
<div class="a" style="left:455.00px;top:297.80px;width:25.10px;height:5.10px;background:#fdfdfd;box-shadow:0 0.3px 0.6px rgba(0,0,0,.25),0 0 0 0.4px #c6c6c6;border-radius:1px"></div>
<div class="a" style="left:386.10px;top:310.70px;width:53.80px;height:26.00px;background:#d8d8d8;border-radius:1.5px"></div>
<div class="a" style="left:390.60px;top:319.40px;width:15.40px;height:5.00px;background:#fff;box-shadow:0 0 0 0.5px #c4c4c4"></div>
<div class="a" style="left:408.20px;top:319.60px;width:1.60px;height:4.60px;background:#f6f6f6;box-shadow:0 0 0 0.4px #c8c8c8;border-radius:0.6px"></div>
<div class="a" style="left:415.00px;top:319.40px;width:15.00px;height:5.00px;background:#fff;box-shadow:0 0 0 0.5px #c4c4c4"></div>
<div class="a" style="left:432.40px;top:319.60px;width:1.60px;height:4.60px;background:#f6f6f6;box-shadow:0 0 0 0.4px #c8c8c8;border-radius:0.6px"></div>
<div class="a" style="left:391.10px;top:329.00px;width:3.40px;height:3.40px;background:#3a8af5;border-radius:0.6px"></div>
<div class="a" style="left:446.60px;top:310.70px;width:74.00px;height:33.70px;background:#d8d8d8;border-radius:1.5px"></div>
<div class="a" style="left:451.50px;top:315.60px;width:3.30px;height:3.30px;background:#fff;box-shadow:0 0 0 0.4px #bbb;border-radius:0.5px"></div>
<div class="a" style="left:451.50px;top:322.30px;width:3.30px;height:3.30px;background:#fff;box-shadow:0 0 0 0.4px #bbb;border-radius:0.5px"></div>
<div class="a" style="left:483.40px;top:328.20px;width:19.40px;height:5.00px;background:#fff;box-shadow:0 0 0 0.5px #c4c4c4"></div>
<div class="a" style="left:505.00px;top:328.40px;width:1.60px;height:4.60px;background:#f6f6f6;box-shadow:0 0 0 0.4px #c8c8c8;border-radius:0.6px"></div>
<div class="a" style="left:451.00px;top:336.00px;width:24.40px;height:5.10px;background:#e9e9e9;box-shadow:0 0 0 0.4px #d4d4d4;border-radius:1px"></div>
<div class="a" style="left:384.30px;top:348.60px;width:24.50px;height:5.00px;background:#e9e9e9;box-shadow:0 0 0 0.4px #d4d4d4;border-radius:1px"></div>
<div class="a" style="left:413.20px;top:348.60px;width:24.50px;height:5.00px;background:#e9e9e9;box-shadow:0 0 0 0.4px #d4d4d4;border-radius:1px"></div>
<div class="a" style="left:442.10px;top:348.60px;width:24.00px;height:5.00px;background:#e9e9e9;box-shadow:0 0 0 0.4px #d4d4d4;border-radius:1px"></div>
<div class="a" style="left:471.00px;top:348.60px;width:24.00px;height:5.00px;background:#e9e9e9;box-shadow:0 0 0 0.4px #d4d4d4;border-radius:1px"></div>
<div class="a" style="left:437.90px;top:367.80px;width:24.20px;height:5.10px;background:#fdfdfd;box-shadow:0 0.3px 0.6px rgba(0,0,0,.25),0 0 0 0.4px #c6c6c6;border-radius:1px"></div>
<div class="a" style="left:467.90px;top:367.80px;width:27.10px;height:5.10px;background:#fdfdfd;box-shadow:0 0.3px 0.6px rgba(0,0,0,.25),0 0 0 0.4px #c6c6c6;border-radius:1px"></div>
<div class="a" style="left:500.60px;top:367.80px;width:23.70px;height:5.10px;background:#fdfdfd;box-shadow:0 0.3px 0.6px rgba(0,0,0,.25),0 0 0 0.4px #c6c6c6;border-radius:1px"></div>
<svg width="720" height="540" viewBox="0 0 720 540"><path d="M388 210.6v4.6l1.05-1l0.95 1.75l0.7-0.35l-0.9-1.7h1.45z" fill="#111" stroke="#fff" stroke-width="0.3"/></svg>
<svg width="720" height="540" viewBox="0 0 720 540"><ellipse cx="336.6" cy="225.1" rx="12.8" ry="5.7" fill="none" stroke="#c82020" stroke-width="1.35"/><ellipse cx="325.8" cy="281.2" rx="12.7" ry="5.6" fill="none" stroke="#c82020" stroke-width="1.35"/></svg>
<svg class="tx" width="720" height="540" viewBox="0 0 720 540"><text x="404.20" y="203.51" font-size="4.4" text-anchor="middle" fill="#777" stroke="#777" stroke-width="0.09">Fahrplan B06-B09</text><text x="370.70" y="213.11" font-size="4.1" text-anchor="middle" fill="#222" stroke="#222" stroke-width="0.09">Übersicht</text><text x="390.90" y="213.11" font-size="4.1" text-anchor="middle" fill="#fff" stroke="#fff" stroke-width="0.09">Ziele</text><text x="411.80" y="213.11" font-size="4.1" text-anchor="middle" fill="#222" stroke="#222" stroke-width="0.09">Nachfolge</text><text x="437.90" y="213.11" font-size="4.1" text-anchor="middle" fill="#222" stroke="#222" stroke-width="0.09">Diagramm</text><text x="321.60" y="227.21" font-size="4.1" text-anchor="end" fill="#222" stroke="#222" stroke-width="0.09">Kennung</text><text x="321.60" y="234.81" font-size="4.1" text-anchor="end" fill="#222" stroke="#222" stroke-width="0.09">Zeitrahmen</text><text x="321.60" y="242.81" font-size="4.1" text-anchor="end" fill="#222" stroke="#222" stroke-width="0.09">Von Stunde</text><text x="321.60" y="249.81" font-size="4.1" text-anchor="end" fill="#222" stroke="#222" stroke-width="0.09">Bis Stunde</text><text x="321.60" y="257.41" font-size="4.1" text-anchor="end" fill="#222" stroke="#222" stroke-width="0.09">Wiederholen</text><text x="321.60" y="265.81" font-size="4.1" text-anchor="end" fill="#222" stroke="#222" stroke-width="0.09">Max. Verzögerung</text><text x="326.80" y="226.66" font-size="4.1" text-anchor="start" fill="#333" stroke="#333" stroke-width="0.09">B06-B09</text><text x="326.80" y="234.71" font-size="4.1" text-anchor="start" fill="#aaa" stroke="#aaa" stroke-width="0.09">1</text><text x="326.80" y="242.91" font-size="4.1" text-anchor="start" fill="#aaa" stroke="#aaa" stroke-width="0.09">0</text><text x="326.80" y="249.91" font-size="4.1" text-anchor="start" fill="#aaa" stroke="#aaa" stroke-width="0.09">0</text><text x="326.80" y="257.41" font-size="4.1" text-anchor="start" fill="#333" stroke="#333" stroke-width="0.09">0</text><text x="326.80" y="265.81" font-size="4.1" text-anchor="start" fill="#333" stroke="#333" stroke-width="0.09">60</text><text x="355.60" y="265.81" font-size="4.1" text-anchor="start" fill="#222" stroke="#222" stroke-width="0.09">Sek.</text><text x="289.80" y="275.50" font-size="3.2" text-anchor="start" fill="#888" stroke="#888" stroke-width="0.13" transform="translate(0 275.50) skewX(0.5) translate(0 -275.50)" style="text-rendering:geometricPrecision;font-kerning:none">Zeitverarbeitung</text><text x="295.50" y="282.71" font-size="4.1" text-anchor="start" fill="#222" stroke="#222" stroke-width="0.09">Absolut</text><text x="322.00" y="282.71" font-size="4.1" text-anchor="start" fill="#222" stroke="#222" stroke-width="0.09">Relativ</text><text x="349.30" y="282.71" font-size="4.1" text-anchor="start" fill="#222" stroke="#222" stroke-width="0.09">Stündlich</text><text x="409.00" y="222.80" font-size="3.2" text-anchor="middle" fill="#222" stroke="#222" stroke-width="0.13" font-weight="bold" transform="translate(0 222.80) skewX(0.5) translate(0 -222.80)" style="text-rendering:geometricPrecision;font-kerning:none">Ortschaft</text><text x="422.40" y="222.80" font-size="3.2" text-anchor="middle" fill="#222" stroke="#222" stroke-width="0.13" font-weight="bold" transform="translate(0 222.80) skewX(0.5) translate(0 -222.80)" style="text-rendering:geometricPrecision;font-kerning:none">Block</text><text x="436.50" y="222.80" font-size="3.2" text-anchor="middle" fill="#222" stroke="#222" stroke-width="0.13" font-weight="bold" transform="translate(0 222.80) skewX(0.5) translate(0 -222.80)" style="text-rendering:geometricPrecision;font-kerning:none">Zeit</text><text x="451.50" y="222.80" font-size="3.2" text-anchor="middle" fill="#222" stroke="#222" stroke-width="0.13" font-weight="bold" transform="translate(0 222.80) skewX(0.5) translate(0 -222.80)" style="text-rendering:geometricPrecision;font-kerning:none">Aktionen</text><text x="464.30" y="222.80" font-size="3.2" text-anchor="middle" fill="#222" stroke="#222" stroke-width="0.13" font-weight="bold" transform="translate(0 222.80) skewX(0.5) translate(0 -222.80)" style="text-rendering:geometricPrecision;font-kerning:none">Inc</text><text x="391.80" y="229.34" font-size="3.3" text-anchor="middle" fill="#222" stroke="#222" stroke-width="0.13" font-weight="bold" transform="translate(0 229.34) skewX(0.5) translate(0 -229.34)" style="text-rendering:geometricPrecision;font-kerning:none">1</text><text x="418.60" y="229.30" font-size="3.2" text-anchor="start" fill="#333" stroke="#333" stroke-width="0.13" transform="translate(0 229.30) skewX(0.5) translate(0 -229.30)" style="text-rendering:geometricPrecision;font-kerning:none">B06</text><text x="431.20" y="229.30" font-size="3.2" text-anchor="start" fill="#333" stroke="#333" stroke-width="0.13" transform="translate(0 229.30) skewX(0.5) translate(0 -229.30)" style="text-rendering:geometricPrecision;font-kerning:none">00:00</text><text x="391.80" y="235.44" font-size="3.3" text-anchor="middle" fill="#222" stroke="#222" stroke-width="0.13" font-weight="bold" transform="translate(0 235.44) skewX(0.5) translate(0 -235.44)" style="text-rendering:geometricPrecision;font-kerning:none">2</text><text x="418.60" y="235.40" font-size="3.2" text-anchor="start" fill="#333" stroke="#333" stroke-width="0.13" transform="translate(0 235.40) skewX(0.5) translate(0 -235.40)" style="text-rendering:geometricPrecision;font-kerning:none">B14</text><text x="431.20" y="235.40" font-size="3.2" text-anchor="start" fill="#333" stroke="#333" stroke-width="0.13" transform="translate(0 235.40) skewX(0.5) translate(0 -235.40)" style="text-rendering:geometricPrecision;font-kerning:none">00:00</text><text x="391.80" y="241.54" font-size="3.3" text-anchor="middle" fill="#222" stroke="#222" stroke-width="0.13" font-weight="bold" transform="translate(0 241.54) skewX(0.5) translate(0 -241.54)" style="text-rendering:geometricPrecision;font-kerning:none">3</text><text x="418.60" y="241.50" font-size="3.2" text-anchor="start" fill="#333" stroke="#333" stroke-width="0.13" transform="translate(0 241.50) skewX(0.5) translate(0 -241.50)" style="text-rendering:geometricPrecision;font-kerning:none">B09</text><text x="431.20" y="241.50" font-size="3.2" text-anchor="start" fill="#333" stroke="#333" stroke-width="0.13" transform="translate(0 241.50) skewX(0.5) translate(0 -241.50)" style="text-rendering:geometricPrecision;font-kerning:none">00:00</text><text x="419.40" y="286.28" font-size="4.0" text-anchor="middle" fill="#222" stroke="#222" stroke-width="0.09">Ortschaft</text><text x="487.20" y="286.28" font-size="4.0" text-anchor="middle" fill="#222" stroke="#222" stroke-width="0.09">Block</text><text x="398.35" y="301.76" font-size="4.1" text-anchor="middle" fill="#222" stroke="#222" stroke-width="0.09">Hinzufügen</text><text x="467.55" y="301.76" font-size="4.1" text-anchor="middle" fill="#222" stroke="#222" stroke-width="0.09">Hinzufügen</text><text x="389.40" y="309.54" font-size="3.3" text-anchor="start" fill="#666" stroke="#666" stroke-width="0.13" transform="translate(0 309.54) skewX(0.5) translate(0 -309.54)" style="text-rendering:geometricPrecision;font-kerning:none">Abfahrt</text><text x="400.60" y="317.01" font-size="4.1" text-anchor="middle" fill="#222" stroke="#222" stroke-width="0.09">Stunde</text><text x="425.00" y="317.01" font-size="4.1" text-anchor="middle" fill="#222" stroke="#222" stroke-width="0.09">Minute</text><text x="391.60" y="323.31" font-size="4.1" text-anchor="start" fill="#333" stroke="#333" stroke-width="0.09">0</text><text x="416.00" y="323.31" font-size="4.1" text-anchor="start" fill="#333" stroke="#333" stroke-width="0.09">0</text><text x="392.80" y="331.63" font-size="3" text-anchor="middle" fill="#fff" stroke="#fff" stroke-width="0.13" transform="translate(0 331.63) skewX(0.5) translate(0 -331.63)" style="text-rendering:geometricPrecision;font-kerning:none">✓</text><text x="396.00" y="332.11" font-size="4.1" text-anchor="start" fill="#222" stroke="#222" stroke-width="0.09">Haltepunkt</text><text x="449.40" y="309.54" font-size="3.3" text-anchor="start" fill="#666" stroke="#666" stroke-width="0.13" transform="translate(0 309.54) skewX(0.5) translate(0 -309.54)" style="text-rendering:geometricPrecision;font-kerning:none">Einzelheiten</text><text x="456.50" y="318.71" font-size="4.1" text-anchor="start" fill="#222" stroke="#222" stroke-width="0.09">Ändern der Platzierung</text><text x="456.50" y="325.41" font-size="4.1" text-anchor="start" fill="#222" stroke="#222" stroke-width="0.09">Frei vor dem Start</text><text x="451.00" y="332.11" font-size="4.1" text-anchor="start" fill="#222" stroke="#222" stroke-width="0.09">IN Verzögerung</text><text x="484.40" y="332.11" font-size="4.1" text-anchor="start" fill="#333" stroke="#333" stroke-width="0.09">0</text><text x="510.60" y="332.11" font-size="4.1" text-anchor="start" fill="#222" stroke="#222" stroke-width="0.09">ms</text><text x="463.20" y="339.96" font-size="4.1" text-anchor="middle" fill="#c0c0c0">Aktionen...</text><text x="396.55" y="352.51" font-size="4.1" text-anchor="middle" fill="#c0c0c0">Entfernen</text><text x="425.45" y="352.51" font-size="4.1" text-anchor="middle" fill="#c0c0c0">Ändern</text><text x="454.10" y="352.51" font-size="4.1" text-anchor="middle" fill="#c0c0c0">Aufwärts</text><text x="483.00" y="352.51" font-size="4.1" text-anchor="middle" fill="#c0c0c0">Abwärts</text><text x="450.00" y="371.76" font-size="4.1" text-anchor="middle" fill="#222" stroke="#222" stroke-width="0.09">Abbrechen</text><text x="481.45" y="371.76" font-size="4.1" text-anchor="middle" fill="#222" stroke="#222" stroke-width="0.09">Übernehmen</text><text x="512.45" y="371.76" font-size="4.1" text-anchor="middle" fill="#222" stroke="#222" stroke-width="0.09">ok</text></svg>
<div class="a" style="left:4.00px;top:86.00px;width:712.00px;height:318.00px;border:1px solid #121212"></div>
</body></html>
